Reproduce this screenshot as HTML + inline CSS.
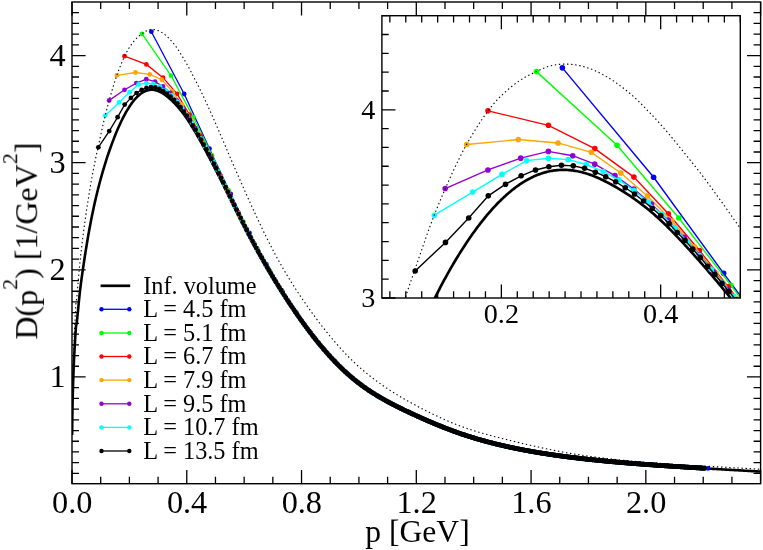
<!DOCTYPE html>
<html><head><meta charset="utf-8"><title>D(p^2) finite volume</title>
<style>html,body{margin:0;padding:0;background:#fff}svg{display:block}</style></head>
<body>
<svg width="763" height="550" viewBox="0 0 763 550" style="display:block">
<rect width="763" height="550" fill="#fff"/>
<defs><clipPath id="cm"><rect x="72.00" y="2.00" width="688.60" height="481.70"/></clipPath>
<clipPath id="ci"><rect x="381.90" y="15.70" width="358.40" height="282.30"/></clipPath></defs>
<g clip-path="url(#cm)">
<path d="M72.14,434.89 L72.17,431.82 L72.20,428.83 L72.23,425.90 L72.27,423.04 L72.30,420.23 L72.34,417.48 L72.38,414.77 L72.43,412.11 L72.47,409.49 L72.52,406.91 L72.57,404.36 L72.62,401.85 L72.68,399.37 L72.73,396.92 L72.79,394.50 L72.86,392.11 L72.92,389.75 L72.99,387.41 L73.06,385.09 L73.13,382.80 L73.20,380.53 L73.28,378.28 L73.36,376.05 L73.44,373.84 L73.52,371.65 L73.61,369.48 L73.69,367.32 L73.78,365.18 L73.88,363.06 L73.97,360.96 L74.07,358.86 L74.17,356.79 L74.27,354.73 L74.37,352.68 L74.48,350.65 L74.59,348.63 L74.70,346.62 L74.81,344.62 L74.93,342.64 L75.05,340.67 L75.17,338.71 L75.29,336.76 L75.42,334.82 L75.54,332.89 L75.67,330.98 L75.81,329.07 L75.94,327.18 L76.08,325.96 L76.22,325.47 L76.36,324.81 L76.50,324.00 L76.65,323.05 L76.80,321.97 L76.95,320.76 L77.10,319.45 L77.26,318.04 L77.42,316.54 L77.58,314.96 L77.74,313.31 L78.88,301.40 L80.02,290.72 L81.16,281.63 L82.30,273.42 L83.44,265.59 L84.58,258.04 L85.72,250.76 L86.86,243.76 L88.00,237.03 L89.14,230.59 L90.28,224.42 L91.42,218.53 L92.56,212.91 L93.70,207.54 L94.84,202.40 L95.98,197.46 L97.12,192.71 L98.26,188.14 L99.40,183.73 L100.54,179.47 L101.68,175.36 L102.82,171.38 L103.96,167.53 L105.10,163.80 L106.24,160.18 L107.38,156.67 L108.52,153.27 L109.66,149.96 L110.80,146.75 L111.94,143.64 L113.08,140.61 L114.22,137.67 L115.36,134.81 L116.50,132.04 L117.64,129.35 L118.78,126.75 L119.92,124.24 L121.06,121.81 L122.20,119.46 L123.34,117.21 L124.48,115.04 L125.62,112.95 L126.76,110.96 L127.90,109.06 L129.04,107.24 L130.18,105.51 L131.32,103.87 L132.46,102.32 L133.60,100.86 L134.74,99.50 L135.88,98.22 L137.02,97.03 L138.16,95.93 L139.30,94.92 L140.44,94.00 L141.58,93.18 L142.72,92.44 L143.86,91.79 L145.00,91.24 L146.14,90.77 L147.28,90.40 L148.42,90.11 L149.56,89.91 L150.70,89.79 L151.84,89.76 L152.98,89.81 L154.12,89.94 L155.26,90.15 L156.40,90.44 L157.54,90.80 L158.68,91.24 L159.82,91.75 L160.96,92.33 L162.10,92.97 L163.24,93.69 L164.38,94.47 L165.52,95.31 L166.66,96.19 L167.80,97.11 L168.94,98.07 L170.08,99.07 L171.22,100.10 L172.36,101.18 L173.50,102.29 L174.64,103.45 L175.78,104.64 L176.92,105.88 L178.06,107.16 L179.20,108.49 L180.34,109.86 L181.48,111.27 L182.62,112.73 L183.76,114.24 L184.90,115.80 L186.04,117.41 L187.18,119.07 L188.32,120.78 L189.46,122.55 L190.60,124.37 L191.74,126.21 L192.88,128.09 L194.02,129.99 L195.16,131.92 L196.30,133.87 L197.44,135.84 L198.58,137.84 L199.72,139.86 L200.86,141.90 L202.00,143.96 L203.14,146.04 L204.28,148.14 L205.42,150.25 L206.56,152.38 L207.70,154.52 L208.84,156.67 L209.98,158.84 L211.12,161.02 L212.26,163.21 L213.40,165.41 L214.54,167.62 L215.68,169.83 L216.82,172.06 L217.96,174.31 L219.10,176.57 L220.24,178.85 L221.38,181.13 L222.52,183.43 L223.66,185.73 L224.80,188.05 L225.94,190.37 L227.08,192.69 L228.22,195.02 L229.36,197.35 L230.50,199.68 L231.64,202.01 L232.78,204.33 L233.92,206.66 L235.06,208.97 L236.20,211.29 L237.34,213.59 L238.48,215.89 L239.62,218.18 L240.76,220.46 L241.90,222.72 L243.04,224.98 L244.18,227.22 L245.32,229.44 L246.46,231.65 L247.60,233.85 L248.74,236.02 L249.88,238.18 L251.02,240.31 L252.16,242.43 L253.30,244.52 L254.44,246.61 L255.58,248.68 L256.72,250.74 L257.86,252.79 L259.00,254.82 L260.14,256.85 L261.28,258.86 L262.42,260.87 L263.56,262.86 L264.70,264.83 L265.84,266.80 L266.98,268.75 L268.12,270.69 L269.26,272.62 L270.40,274.54 L271.54,276.44 L272.68,278.34 L273.82,280.21 L274.96,282.08 L276.10,283.94 L277.24,285.78 L278.38,287.61 L279.52,289.42 L280.66,291.23 L281.80,293.02 L282.94,294.80 L284.08,296.57 L285.22,298.33 L286.36,300.07 L287.50,301.80 L288.64,303.52 L289.78,305.23 L290.92,306.93 L292.06,308.62 L293.20,310.29 L294.34,311.95 L295.48,313.60 L296.62,315.24 L297.76,316.87 L298.90,318.49 L300.04,320.09 L301.18,321.68 L302.32,323.26 L303.46,324.83 L304.60,326.38 L305.74,327.92 L306.88,329.45 L308.02,330.97 L309.16,332.47 L310.30,333.96 L311.44,335.43 L312.58,336.90 L313.72,338.34 L314.86,339.78 L316.00,341.20 L317.14,342.61 L318.28,344.00 L319.42,345.38 L320.56,346.74 L321.70,348.10 L322.84,349.43 L323.98,350.76 L325.12,352.06 L326.26,353.36 L327.40,354.64 L328.54,355.90 L329.68,357.15 L330.82,358.39 L331.96,359.61 L333.10,360.82 L334.24,362.01 L335.38,363.19 L336.52,364.35 L337.66,365.50 L338.80,366.63 L339.94,367.75 L341.08,368.86 L342.22,369.95 L343.36,371.02 L344.50,372.08 L345.64,373.12 L346.78,374.15 L347.92,375.17 L349.06,376.17 L350.20,377.15 L351.34,378.12 L352.48,379.07 L353.62,380.01 L354.76,380.93 L355.90,381.84 L357.04,382.74 L358.18,383.62 L359.32,384.48 L360.46,385.34 L361.60,386.17 L362.74,387.00 L363.88,387.81 L365.02,388.61 L366.16,389.40 L367.30,390.18 L368.44,390.94 L369.58,391.70 L370.72,392.44 L371.86,393.17 L373.00,393.89 L374.14,394.61 L375.28,395.31 L376.42,396.00 L377.56,396.69 L378.70,397.36 L379.84,398.03 L380.98,398.69 L382.12,399.34 L383.26,399.98 L384.40,400.62 L385.54,401.24 L386.68,401.86 L387.82,402.48 L388.96,403.09 L390.10,403.69 L391.24,404.28 L392.38,404.87 L393.52,405.46 L394.66,406.04 L395.80,406.61 L396.94,407.18 L398.08,407.75 L399.22,408.31 L400.36,408.86 L401.50,409.42 L402.64,409.97 L403.78,410.51 L404.92,411.05 L406.06,411.59 L407.20,412.13 L408.34,412.66 L409.48,413.20 L410.62,413.73 L411.76,414.25 L412.90,414.78 L414.04,415.30 L415.18,415.82 L416.32,416.34 L417.46,416.85 L418.60,417.37 L419.74,417.88 L420.88,418.38 L422.02,418.89 L423.16,419.39 L424.30,419.89 L425.44,420.39 L426.58,420.88 L427.72,421.37 L428.86,421.86 L430.00,422.35 L431.14,422.83 L432.28,423.31 L433.42,423.78 L434.56,424.26 L435.70,424.73 L436.84,425.19 L437.98,425.65 L439.12,426.11 L440.26,426.57 L441.40,427.02 L442.54,427.47 L443.68,427.92 L444.82,428.36 L445.96,428.80 L447.10,429.24 L448.24,429.67 L449.38,430.10 L450.52,430.52 L451.66,430.94 L452.80,431.36 L453.94,431.78 L455.08,432.19 L456.22,432.59 L457.36,432.99 L458.50,433.39 L459.64,433.79 L460.78,434.18 L461.92,434.56 L463.06,434.94 L464.20,435.32 L465.34,435.69 L466.48,436.06 L467.62,436.43 L468.76,436.79 L469.90,437.15 L471.04,437.50 L472.18,437.85 L473.32,438.20 L474.46,438.54 L475.60,438.88 L476.74,439.22 L477.88,439.55 L479.02,439.87 L480.16,440.20 L481.30,440.52 L482.44,440.84 L483.58,441.15 L484.72,441.46 L485.86,441.77 L487.00,442.07 L488.14,442.37 L489.28,442.67 L490.42,442.96 L491.56,443.26 L492.70,443.54 L493.84,443.83 L494.98,444.11 L496.12,444.39 L497.26,444.67 L498.40,444.94 L499.54,445.21 L500.68,445.48 L501.82,445.74 L502.96,446.00 L504.10,446.26 L505.24,446.52 L506.38,446.77 L507.52,447.02 L508.66,447.27 L509.80,447.51 L510.94,447.76 L512.08,448.00 L513.22,448.23 L514.36,448.47 L515.50,448.70 L516.64,448.93 L517.78,449.16 L518.92,449.39 L520.06,449.61 L521.20,449.83 L522.34,450.05 L523.48,450.26 L524.62,450.48 L525.76,450.69 L526.90,450.90 L528.04,451.11 L529.18,451.31 L530.32,451.51 L531.46,451.72 L532.60,451.91 L533.74,452.11 L534.88,452.31 L536.02,452.50 L537.16,452.69 L538.30,452.88 L539.44,453.07 L540.58,453.25 L541.72,453.43 L542.86,453.62 L544.00,453.80 L545.14,453.97 L546.28,454.15 L547.42,454.32 L548.56,454.50 L549.70,454.67 L550.84,454.84 L551.98,455.00 L553.12,455.17 L554.26,455.33 L555.40,455.49 L556.54,455.66 L557.68,455.81 L558.82,455.97 L559.96,456.13 L561.10,456.28 L562.24,456.44 L563.38,456.59 L564.52,456.74 L565.66,456.89 L566.80,457.03 L567.94,457.18 L569.08,457.32 L570.22,457.47 L571.36,457.61 L572.50,457.75 L573.64,457.89 L574.78,458.02 L575.92,458.16 L577.06,458.30 L578.20,458.43 L579.34,458.56 L580.48,458.69 L581.62,458.82 L582.76,458.95 L583.90,459.08 L585.04,459.21 L586.18,459.33 L587.32,459.46 L588.46,459.58 L589.60,459.70 L590.74,459.82 L591.88,459.94 L593.02,460.06 L594.16,460.18 L595.30,460.29 L596.44,460.41 L597.58,460.52 L598.72,460.64 L599.86,460.75 L601.00,460.86 L602.14,460.97 L603.28,461.08 L604.42,461.19 L605.56,461.30 L606.70,461.41 L607.84,461.51 L608.98,461.62 L610.12,461.72 L611.26,461.83 L612.40,461.93 L613.54,462.03 L614.68,462.13 L615.82,462.23 L616.96,462.33 L618.10,462.43 L619.24,462.53 L620.38,462.62 L621.52,462.72 L622.66,462.82 L623.80,462.91 L624.94,463.01 L626.08,463.10 L627.22,463.19 L628.36,463.28 L629.50,463.37 L630.64,463.47 L631.78,463.56 L632.92,463.65 L634.06,463.73 L635.20,463.82 L636.34,463.91 L637.48,464.00 L638.62,464.08 L639.76,464.17 L640.90,464.25 L642.04,464.34 L643.18,464.42 L644.32,464.51 L645.46,464.59 L646.60,464.67 L647.74,464.75 L648.88,464.84 L650.02,464.92 L651.16,465.00 L652.30,465.08 L653.44,465.16 L654.58,465.24 L655.72,465.32 L656.86,465.39 L658.00,465.47 L659.14,465.55 L660.28,465.63 L661.42,465.70 L662.56,465.78 L663.70,465.85 L664.84,465.93 L665.98,466.01 L667.12,466.08 L668.26,466.15 L669.40,466.23 L670.54,466.30 L671.68,466.38 L672.82,466.45 L673.96,466.52 L675.10,466.59 L676.24,466.67 L677.38,466.74 L678.52,466.81 L679.66,466.88 L680.80,466.95 L681.94,467.02 L683.08,467.09 L684.22,467.16 L685.36,467.23 L686.50,467.30 L687.64,467.37 L688.78,467.44 L689.92,467.51 L691.06,467.58 L692.20,467.65 L693.34,467.72 L694.48,467.78 L695.62,467.85 L696.76,467.92 L697.90,467.99 L699.04,468.05 L700.18,468.12 L701.32,468.19 L702.46,468.26 L703.60,468.32 L704.74,468.39 L705.88,468.46 L707.02,468.52 L708.16,468.59 L709.30,468.66 L710.44,468.72 L711.58,468.79 L712.72,468.85 L713.86,468.92 L715.00,468.99 L716.14,469.05 L717.28,469.12 L718.42,469.18 L719.56,469.25 L720.70,469.31 L721.84,469.38 L722.98,469.44 L724.12,469.51 L725.26,469.58 L726.40,469.64 L727.54,469.71 L728.68,469.77 L729.82,469.84 L730.96,469.90 L732.10,469.97 L733.24,470.03 L734.38,470.10 L735.52,470.16 L736.66,470.23 L737.80,470.29 L738.94,470.36 L740.08,470.42 L741.22,470.49 L742.36,470.56 L743.50,470.62 L744.64,470.69 L745.78,470.75 L746.92,470.82 L748.06,470.88 L749.20,470.95 L750.34,471.02 L751.48,471.08 L752.62,471.15 L753.76,471.21 L754.90,471.28 L756.04,471.35 L757.18,471.41 L758.32,471.48 L759.46,471.55 L760.60,471.61" fill="none" stroke="#000" stroke-width="2.6" stroke-linejoin="round"/>
<path d="M151.36,31.70 L184.23,93.98 L209.46,148.68 L230.72,193.96 L249.46,232.92 L266.39,264.36 L281.97,290.61 L296.47,312.84 L310.08,331.86 L322.96,348.04 L335.21,361.69 L346.92,373.12 L358.14,382.56 L368.94,390.35 L379.36,396.91 L389.44,402.57 L399.21,407.59 L408.70,412.17 L417.93,416.45 L426.91,420.45 L435.68,424.18 L444.24,427.63 L452.60,430.82 L460.79,433.73 L468.81,436.38 L476.66,438.79 L484.37,440.99 L491.94,442.99 L499.37,444.82 L506.68,446.51 L513.86,448.05 L520.93,449.48 L527.90,450.79 L534.75,452.00 L541.51,453.13 L548.17,454.18 L554.74,455.15 L561.21,456.05 L567.61,456.90 L573.92,457.69 L580.16,458.43 L586.32,459.13 L592.41,459.79 L598.42,460.40 L604.37,460.99 L610.25,461.54 L616.07,462.06 L621.83,462.56 L627.53,463.03 L633.17,463.49 L638.75,463.92 L644.28,464.33 L649.76,464.73 L655.18,465.11 L660.56,465.48 L665.88,465.84 L671.16,466.19 L676.40,466.52 L681.58,466.85 L686.73,467.17 L691.83,467.48 L696.89,467.79 L701.91,468.08 L707.98,468.44" fill="none" stroke="#0000ff" stroke-width="1.3"/>
<g fill="#0000ff"><circle cx="151.36" cy="31.70" r="2.4"/><circle cx="184.23" cy="93.98" r="2.4"/><circle cx="209.46" cy="148.68" r="2.4"/><circle cx="230.72" cy="193.96" r="2.4"/><circle cx="249.46" cy="232.92" r="2.4"/><circle cx="266.39" cy="264.36" r="2.4"/><circle cx="281.97" cy="290.61" r="2.4"/><circle cx="296.47" cy="312.84" r="2.4"/><circle cx="310.08" cy="331.86" r="2.4"/><circle cx="322.96" cy="348.04" r="2.4"/><circle cx="335.21" cy="361.69" r="2.4"/><circle cx="346.92" cy="373.12" r="2.4"/><circle cx="358.14" cy="382.56" r="2.4"/><circle cx="368.94" cy="390.35" r="2.4"/><circle cx="379.36" cy="396.91" r="2.4"/><circle cx="389.44" cy="402.57" r="2.4"/><circle cx="399.21" cy="407.59" r="2.4"/><circle cx="408.70" cy="412.17" r="2.4"/><circle cx="417.93" cy="416.45" r="2.4"/><circle cx="426.91" cy="420.45" r="2.4"/><circle cx="435.68" cy="424.18" r="2.4"/><circle cx="444.24" cy="427.63" r="2.4"/><circle cx="452.60" cy="430.82" r="2.4"/><circle cx="460.79" cy="433.73" r="2.4"/><circle cx="468.81" cy="436.38" r="2.4"/><circle cx="476.66" cy="438.79" r="2.4"/><circle cx="484.37" cy="440.99" r="2.4"/><circle cx="491.94" cy="442.99" r="2.4"/><circle cx="499.37" cy="444.82" r="2.4"/><circle cx="506.68" cy="446.51" r="2.4"/><circle cx="513.86" cy="448.05" r="2.4"/><circle cx="520.93" cy="449.48" r="2.4"/><circle cx="527.90" cy="450.79" r="2.4"/><circle cx="534.75" cy="452.00" r="2.4"/><circle cx="541.51" cy="453.13" r="2.4"/><circle cx="548.17" cy="454.18" r="2.4"/><circle cx="554.74" cy="455.15" r="2.4"/><circle cx="561.21" cy="456.05" r="2.4"/><circle cx="567.61" cy="456.90" r="2.4"/><circle cx="573.92" cy="457.69" r="2.4"/><circle cx="580.16" cy="458.43" r="2.4"/><circle cx="586.32" cy="459.13" r="2.4"/><circle cx="592.41" cy="459.79" r="2.4"/><circle cx="598.42" cy="460.40" r="2.4"/><circle cx="604.37" cy="460.99" r="2.4"/><circle cx="610.25" cy="461.54" r="2.4"/><circle cx="616.07" cy="462.06" r="2.4"/><circle cx="621.83" cy="462.56" r="2.4"/><circle cx="627.53" cy="463.03" r="2.4"/><circle cx="633.17" cy="463.49" r="2.4"/><circle cx="638.75" cy="463.92" r="2.4"/><circle cx="644.28" cy="464.33" r="2.4"/><circle cx="649.76" cy="464.73" r="2.4"/><circle cx="655.18" cy="465.11" r="2.4"/><circle cx="660.56" cy="465.48" r="2.4"/><circle cx="665.88" cy="465.84" r="2.4"/><circle cx="671.16" cy="466.19" r="2.4"/><circle cx="676.40" cy="466.52" r="2.4"/><circle cx="681.58" cy="466.85" r="2.4"/><circle cx="686.73" cy="467.17" r="2.4"/><circle cx="691.83" cy="467.48" r="2.4"/><circle cx="696.89" cy="467.79" r="2.4"/><circle cx="701.91" cy="468.08" r="2.4"/><circle cx="707.98" cy="468.44" r="2.4"/></g>
<path d="M142.04,33.83 L171.05,75.71 L193.31,117.16 L212.07,155.41 L228.61,190.40 L243.55,221.85 L257.30,248.48 L270.09,271.31 L282.11,291.22 L293.47,308.72 L304.28,324.24 L314.61,337.96 L324.52,350.03 L334.05,360.61 L343.25,369.82 L352.15,377.79 L360.77,384.64 L369.14,390.54 L377.28,395.71 L385.21,400.31 L392.95,404.45 L400.50,408.25 L407.88,411.81 L415.11,415.18 L422.18,418.38 L429.12,421.42 L435.92,424.29 L442.60,427.00 L449.16,429.54 L455.60,431.92 L461.95,434.13 L468.19,436.19 L474.33,438.10 L480.38,439.88 L486.34,441.53 L492.22,443.07 L498.01,444.50 L503.73,445.84 L509.38,447.10 L514.95,448.28 L520.45,449.38 L525.89,450.42 L531.26,451.40 L536.57,452.32 L541.82,453.18 L547.01,454.00 L552.15,454.77 L557.23,455.50 L562.25,456.20 L567.23,456.85 L572.16,457.48 L577.04,458.07 L581.87,458.63 L586.66,459.17 L591.40,459.68 L596.10,460.17 L600.76,460.64 L605.38,461.08 L609.96,461.51 L614.50,461.92 L619.00,462.32 L623.47,462.70 L627.90,463.06 L632.29,463.42 L636.65,463.76 L640.98,464.09 L645.27,464.41 L649.53,464.72 L653.77,465.02 L657.97,465.31 L662.14,465.59 L666.28,465.87 L670.39,466.14 L674.48,466.40 L678.53,466.66 L682.56,466.91 L686.57,467.16 L690.54,467.40 L694.50,467.64 L698.42,467.88 L702.33,468.11" fill="none" stroke="#00ff00" stroke-width="1.3"/>
<g fill="#00ff00"><circle cx="142.04" cy="33.83" r="2.4"/><circle cx="171.05" cy="75.71" r="2.4"/><circle cx="193.31" cy="117.16" r="2.4"/><circle cx="212.07" cy="155.41" r="2.4"/><circle cx="228.61" cy="190.40" r="2.4"/><circle cx="243.55" cy="221.85" r="2.4"/><circle cx="257.30" cy="248.48" r="2.4"/><circle cx="270.09" cy="271.31" r="2.4"/><circle cx="282.11" cy="291.22" r="2.4"/><circle cx="293.47" cy="308.72" r="2.4"/><circle cx="304.28" cy="324.24" r="2.4"/><circle cx="314.61" cy="337.96" r="2.4"/><circle cx="324.52" cy="350.03" r="2.4"/><circle cx="334.05" cy="360.61" r="2.4"/><circle cx="343.25" cy="369.82" r="2.4"/><circle cx="352.15" cy="377.79" r="2.4"/><circle cx="360.77" cy="384.64" r="2.4"/><circle cx="369.14" cy="390.54" r="2.4"/><circle cx="377.28" cy="395.71" r="2.4"/><circle cx="385.21" cy="400.31" r="2.4"/><circle cx="392.95" cy="404.45" r="2.4"/><circle cx="400.50" cy="408.25" r="2.4"/><circle cx="407.88" cy="411.81" r="2.4"/><circle cx="415.11" cy="415.18" r="2.4"/><circle cx="422.18" cy="418.38" r="2.4"/><circle cx="429.12" cy="421.42" r="2.4"/><circle cx="435.92" cy="424.29" r="2.4"/><circle cx="442.60" cy="427.00" r="2.4"/><circle cx="449.16" cy="429.54" r="2.4"/><circle cx="455.60" cy="431.92" r="2.4"/><circle cx="461.95" cy="434.13" r="2.4"/><circle cx="468.19" cy="436.19" r="2.4"/><circle cx="474.33" cy="438.10" r="2.4"/><circle cx="480.38" cy="439.88" r="2.4"/><circle cx="486.34" cy="441.53" r="2.4"/><circle cx="492.22" cy="443.07" r="2.4"/><circle cx="498.01" cy="444.50" r="2.4"/><circle cx="503.73" cy="445.84" r="2.4"/><circle cx="509.38" cy="447.10" r="2.4"/><circle cx="514.95" cy="448.28" r="2.4"/><circle cx="520.45" cy="449.38" r="2.4"/><circle cx="525.89" cy="450.42" r="2.4"/><circle cx="531.26" cy="451.40" r="2.4"/><circle cx="536.57" cy="452.32" r="2.4"/><circle cx="541.82" cy="453.18" r="2.4"/><circle cx="547.01" cy="454.00" r="2.4"/><circle cx="552.15" cy="454.77" r="2.4"/><circle cx="557.23" cy="455.50" r="2.4"/><circle cx="562.25" cy="456.20" r="2.4"/><circle cx="567.23" cy="456.85" r="2.4"/><circle cx="572.16" cy="457.48" r="2.4"/><circle cx="577.04" cy="458.07" r="2.4"/><circle cx="581.87" cy="458.63" r="2.4"/><circle cx="586.66" cy="459.17" r="2.4"/><circle cx="591.40" cy="459.68" r="2.4"/><circle cx="596.10" cy="460.17" r="2.4"/><circle cx="600.76" cy="460.64" r="2.4"/><circle cx="605.38" cy="461.08" r="2.4"/><circle cx="609.96" cy="461.51" r="2.4"/><circle cx="614.50" cy="461.92" r="2.4"/><circle cx="619.00" cy="462.32" r="2.4"/><circle cx="623.47" cy="462.70" r="2.4"/><circle cx="627.90" cy="463.06" r="2.4"/><circle cx="632.29" cy="463.42" r="2.4"/><circle cx="636.65" cy="463.76" r="2.4"/><circle cx="640.98" cy="464.09" r="2.4"/><circle cx="645.27" cy="464.41" r="2.4"/><circle cx="649.53" cy="464.72" r="2.4"/><circle cx="653.77" cy="465.02" r="2.4"/><circle cx="657.97" cy="465.31" r="2.4"/><circle cx="662.14" cy="465.59" r="2.4"/><circle cx="666.28" cy="465.87" r="2.4"/><circle cx="670.39" cy="466.14" r="2.4"/><circle cx="674.48" cy="466.40" r="2.4"/><circle cx="678.53" cy="466.66" r="2.4"/><circle cx="682.56" cy="466.91" r="2.4"/><circle cx="686.57" cy="467.16" r="2.4"/><circle cx="690.54" cy="467.40" r="2.4"/><circle cx="694.50" cy="467.64" r="2.4"/><circle cx="698.42" cy="467.88" r="2.4"/><circle cx="702.33" cy="468.11" r="2.4"/></g>
<path d="M124.56,56.16 L146.34,64.39 L163.04,77.63 L177.13,93.87 L189.53,114.70 L200.75,135.64 L211.07,156.26 L220.67,175.78 L229.69,194.62 L238.22,212.37 L246.33,228.72 L254.08,243.52 L261.52,257.05 L268.67,269.57 L275.58,281.17 L282.25,291.95 L288.72,301.98 L295.01,311.35 L301.12,320.12 L307.07,328.31 L312.87,335.95 L318.54,343.07 L324.08,349.69 L329.51,355.83 L334.82,361.53 L340.02,366.80 L345.13,371.67 L350.14,376.15 L355.06,380.27 L359.90,384.05 L364.66,387.52 L369.34,390.73 L373.95,393.70 L378.49,396.48 L382.97,399.08 L387.38,401.52 L391.73,403.84 L396.02,406.05 L400.26,408.15 L404.44,410.18 L408.57,412.15 L412.65,414.06 L416.68,415.91 L420.66,417.71 L424.60,419.46 L428.50,421.16 L432.35,422.81 L436.17,424.40 L439.94,425.94 L443.68,427.43 L447.38,428.87 L451.04,430.25 L454.67,431.58 L458.26,432.86 L461.82,434.09 L465.35,435.27 L468.84,436.40 L472.31,437.49 L475.75,438.53 L479.15,439.53 L482.53,440.48 L485.88,441.40 L489.21,442.29 L492.51,443.14 L495.78,443.96 L499.02,444.75 L502.25,445.50 L505.45,446.23 L508.62,446.94 L511.77,447.62 L514.90,448.27 L518.01,448.90 L521.10,449.51 L524.17,450.10 L527.21,450.67 L530.23,451.21 L533.24,451.75 L536.23,452.26 L539.19,452.75 L542.14,453.23 L545.07,453.70 L547.98,454.15 L550.87,454.58 L553.75,455.01 L556.61,455.42 L559.45,455.81 L562.28,456.20 L565.09,456.57 L567.88,456.94 L570.66,457.29 L573.42,457.63 L576.17,457.96 L578.90,458.29 L581.62,458.60 L584.32,458.91 L587.01,459.21 L589.69,459.50 L592.35,459.78 L595.00,460.06 L597.63,460.32 L600.25,460.59 L602.86,460.84 L605.46,461.09 L608.04,461.33 L610.61,461.57 L613.17,461.80 L615.72,462.03 L618.25,462.25 L620.78,462.47 L623.29,462.68 L625.79,462.89 L628.28,463.09 L630.75,463.29 L633.22,463.49 L635.68,463.68 L638.12,463.87 L640.56,464.06 L642.98,464.24 L645.40,464.41 L647.80,464.59 L650.19,464.76 L652.58,464.93 L654.95,465.10 L657.32,465.26 L659.67,465.42 L662.02,465.58 L664.36,465.74 L666.68,465.89 L669.00,466.05 L671.31,466.20 L673.61,466.35 L675.90,466.49 L678.19,466.64 L680.46,466.78 L682.73,466.92 L684.99,467.06 L687.24,467.20 L689.48,467.34 L691.71,467.47 L693.94,467.61 L696.15,467.74 L698.36,467.87 L700.56,468.01 L702.76,468.14" fill="none" stroke="#ff0000" stroke-width="1.3"/>
<g fill="#ff0000"><circle cx="124.56" cy="56.16" r="2.4"/><circle cx="146.34" cy="64.39" r="2.4"/><circle cx="163.04" cy="77.63" r="2.4"/><circle cx="177.13" cy="93.87" r="2.4"/><circle cx="189.53" cy="114.70" r="2.4"/><circle cx="200.75" cy="135.64" r="2.4"/><circle cx="211.07" cy="156.26" r="2.4"/><circle cx="220.67" cy="175.78" r="2.4"/><circle cx="229.69" cy="194.62" r="2.4"/><circle cx="238.22" cy="212.37" r="2.4"/><circle cx="246.33" cy="228.72" r="2.4"/><circle cx="254.08" cy="243.52" r="2.4"/><circle cx="261.52" cy="257.05" r="2.4"/><circle cx="268.67" cy="269.57" r="2.4"/><circle cx="275.58" cy="281.17" r="2.4"/><circle cx="282.25" cy="291.95" r="2.4"/><circle cx="288.72" cy="301.98" r="2.4"/><circle cx="295.01" cy="311.35" r="2.4"/><circle cx="301.12" cy="320.12" r="2.4"/><circle cx="307.07" cy="328.31" r="2.4"/><circle cx="312.87" cy="335.95" r="2.4"/><circle cx="318.54" cy="343.07" r="2.4"/><circle cx="324.08" cy="349.69" r="2.4"/><circle cx="329.51" cy="355.83" r="2.4"/><circle cx="334.82" cy="361.53" r="2.4"/><circle cx="340.02" cy="366.80" r="2.4"/><circle cx="345.13" cy="371.67" r="2.4"/><circle cx="350.14" cy="376.15" r="2.4"/><circle cx="355.06" cy="380.27" r="2.4"/><circle cx="359.90" cy="384.05" r="2.4"/><circle cx="364.66" cy="387.52" r="2.4"/><circle cx="369.34" cy="390.73" r="2.4"/><circle cx="373.95" cy="393.70" r="2.4"/><circle cx="378.49" cy="396.48" r="2.4"/><circle cx="382.97" cy="399.08" r="2.4"/><circle cx="387.38" cy="401.52" r="2.4"/><circle cx="391.73" cy="403.84" r="2.4"/><circle cx="396.02" cy="406.05" r="2.4"/><circle cx="400.26" cy="408.15" r="2.4"/><circle cx="404.44" cy="410.18" r="2.4"/><circle cx="408.57" cy="412.15" r="2.4"/><circle cx="412.65" cy="414.06" r="2.4"/><circle cx="416.68" cy="415.91" r="2.4"/><circle cx="420.66" cy="417.71" r="2.4"/><circle cx="424.60" cy="419.46" r="2.4"/><circle cx="428.50" cy="421.16" r="2.4"/><circle cx="432.35" cy="422.81" r="2.4"/><circle cx="436.17" cy="424.40" r="2.4"/><circle cx="439.94" cy="425.94" r="2.4"/><circle cx="443.68" cy="427.43" r="2.4"/><circle cx="447.38" cy="428.87" r="2.4"/><circle cx="451.04" cy="430.25" r="2.4"/><circle cx="454.67" cy="431.58" r="2.4"/><circle cx="458.26" cy="432.86" r="2.4"/><circle cx="461.82" cy="434.09" r="2.4"/><circle cx="465.35" cy="435.27" r="2.4"/><circle cx="468.84" cy="436.40" r="2.4"/><circle cx="472.31" cy="437.49" r="2.4"/><circle cx="475.75" cy="438.53" r="2.4"/><circle cx="479.15" cy="439.53" r="2.4"/><circle cx="482.53" cy="440.48" r="2.4"/><circle cx="485.88" cy="441.40" r="2.4"/><circle cx="489.21" cy="442.29" r="2.4"/><circle cx="492.51" cy="443.14" r="2.4"/><circle cx="495.78" cy="443.96" r="2.4"/><circle cx="499.02" cy="444.75" r="2.4"/><circle cx="502.25" cy="445.50" r="2.4"/><circle cx="505.45" cy="446.23" r="2.4"/><circle cx="508.62" cy="446.94" r="2.4"/><circle cx="511.77" cy="447.62" r="2.4"/><circle cx="514.90" cy="448.27" r="2.4"/><circle cx="518.01" cy="448.90" r="2.4"/><circle cx="521.10" cy="449.51" r="2.4"/><circle cx="524.17" cy="450.10" r="2.4"/><circle cx="527.21" cy="450.67" r="2.4"/><circle cx="530.23" cy="451.21" r="2.4"/><circle cx="533.24" cy="451.75" r="2.4"/><circle cx="536.23" cy="452.26" r="2.4"/><circle cx="539.19" cy="452.75" r="2.4"/><circle cx="542.14" cy="453.23" r="2.4"/><circle cx="545.07" cy="453.70" r="2.4"/><circle cx="547.98" cy="454.15" r="2.4"/><circle cx="550.87" cy="454.58" r="2.4"/><circle cx="553.75" cy="455.01" r="2.4"/><circle cx="556.61" cy="455.42" r="2.4"/><circle cx="559.45" cy="455.81" r="2.4"/><circle cx="562.28" cy="456.20" r="2.4"/><circle cx="565.09" cy="456.57" r="2.4"/><circle cx="567.88" cy="456.94" r="2.4"/><circle cx="570.66" cy="457.29" r="2.4"/><circle cx="573.42" cy="457.63" r="2.4"/><circle cx="576.17" cy="457.96" r="2.4"/><circle cx="578.90" cy="458.29" r="2.4"/><circle cx="581.62" cy="458.60" r="2.4"/><circle cx="584.32" cy="458.91" r="2.4"/><circle cx="587.01" cy="459.21" r="2.4"/><circle cx="589.69" cy="459.50" r="2.4"/><circle cx="592.35" cy="459.78" r="2.4"/><circle cx="595.00" cy="460.06" r="2.4"/><circle cx="597.63" cy="460.32" r="2.4"/><circle cx="600.25" cy="460.59" r="2.4"/><circle cx="602.86" cy="460.84" r="2.4"/><circle cx="605.46" cy="461.09" r="2.4"/><circle cx="608.04" cy="461.33" r="2.4"/><circle cx="610.61" cy="461.57" r="2.4"/><circle cx="613.17" cy="461.80" r="2.4"/><circle cx="615.72" cy="462.03" r="2.4"/><circle cx="618.25" cy="462.25" r="2.4"/><circle cx="620.78" cy="462.47" r="2.4"/><circle cx="623.29" cy="462.68" r="2.4"/><circle cx="625.79" cy="462.89" r="2.4"/><circle cx="628.28" cy="463.09" r="2.4"/><circle cx="630.75" cy="463.29" r="2.4"/><circle cx="633.22" cy="463.49" r="2.4"/><circle cx="635.68" cy="463.68" r="2.4"/><circle cx="638.12" cy="463.87" r="2.4"/><circle cx="640.56" cy="464.06" r="2.4"/><circle cx="642.98" cy="464.24" r="2.4"/><circle cx="645.40" cy="464.41" r="2.4"/><circle cx="647.80" cy="464.59" r="2.4"/><circle cx="650.19" cy="464.76" r="2.4"/><circle cx="652.58" cy="464.93" r="2.4"/><circle cx="654.95" cy="465.10" r="2.4"/><circle cx="657.32" cy="465.26" r="2.4"/><circle cx="659.67" cy="465.42" r="2.4"/><circle cx="662.02" cy="465.58" r="2.4"/><circle cx="664.36" cy="465.74" r="2.4"/><circle cx="666.68" cy="465.89" r="2.4"/><circle cx="669.00" cy="466.05" r="2.4"/><circle cx="671.31" cy="466.20" r="2.4"/><circle cx="673.61" cy="466.35" r="2.4"/><circle cx="675.90" cy="466.49" r="2.4"/><circle cx="678.19" cy="466.64" r="2.4"/><circle cx="680.46" cy="466.78" r="2.4"/><circle cx="682.73" cy="466.92" r="2.4"/><circle cx="684.99" cy="467.06" r="2.4"/><circle cx="687.24" cy="467.20" r="2.4"/><circle cx="689.48" cy="467.34" r="2.4"/><circle cx="691.71" cy="467.47" r="2.4"/><circle cx="693.94" cy="467.61" r="2.4"/><circle cx="696.15" cy="467.74" r="2.4"/><circle cx="698.36" cy="467.87" r="2.4"/><circle cx="700.56" cy="468.01" r="2.4"/><circle cx="702.76" cy="468.14" r="2.4"/></g>
<path d="M116.90,75.28 L135.50,72.51 L149.77,74.43 L161.80,79.77 L172.40,91.52 L181.99,104.66 L190.80,118.85 L199.00,133.70 L206.71,148.43 L213.99,162.82 L220.92,176.86 L227.55,190.58 L233.90,203.79 L240.01,216.34 L245.91,228.14 L251.61,239.11 L257.14,249.32 L262.50,258.96 L267.73,268.07 L272.81,276.69 L277.77,284.85 L282.61,292.59 L287.34,299.94 L291.98,306.93 L296.51,313.59 L300.96,319.94 L305.32,325.97 L309.60,331.72 L313.81,337.17 L317.94,342.35 L322.01,347.26 L326.01,351.92 L329.94,356.33 L333.82,360.50 L337.65,364.45 L341.41,368.17 L345.13,371.68 L348.80,374.99 L352.42,378.10 L355.99,381.02 L359.52,383.76 L363.00,386.34 L366.45,388.77 L369.85,391.07 L373.21,393.24 L376.54,395.31 L379.84,397.27 L383.09,399.15 L386.32,400.95 L389.51,402.67 L392.67,404.33 L395.80,405.93 L398.89,407.48 L401.96,408.99 L405.01,410.46 L408.02,411.89 L411.01,413.29 L413.97,414.67 L416.90,416.01 L419.81,417.33 L422.70,418.62 L425.56,419.89 L428.40,421.12 L431.22,422.33 L434.02,423.51 L436.79,424.66 L439.54,425.78 L442.28,426.87 L444.99,427.94 L447.68,428.98 L450.35,429.99 L453.01,430.98 L455.65,431.94 L458.27,432.87 L460.87,433.77 L463.45,434.65 L466.02,435.49 L468.57,436.32 L471.10,437.12 L473.62,437.89 L476.12,438.64 L478.61,439.37 L481.08,440.08 L483.54,440.76 L485.98,441.43 L488.41,442.08 L490.82,442.71 L493.22,443.32 L495.61,443.92 L497.98,444.50 L500.34,445.06 L502.69,445.61 L505.02,446.14 L507.35,446.66 L509.66,447.16 L511.95,447.65 L514.24,448.13 L516.51,448.60 L518.77,449.05 L521.02,449.50 L523.26,449.93 L525.49,450.35 L527.71,450.76 L529.92,451.16 L532.11,451.55 L534.30,451.93 L536.47,452.30 L538.64,452.66 L540.80,453.02 L542.94,453.36 L545.08,453.70 L547.20,454.03 L549.32,454.35 L551.43,454.67 L553.53,454.97 L555.61,455.28 L557.69,455.57 L559.77,455.86 L561.83,456.14 L563.88,456.41 L565.93,456.68 L567.96,456.95 L569.99,457.21 L572.01,457.46 L574.02,457.71 L576.03,457.95 L578.03,458.19 L580.01,458.42 L581.99,458.65 L583.97,458.87 L585.93,459.09 L587.89,459.30 L589.84,459.51 L591.78,459.72 L593.72,459.92 L595.65,460.12 L597.57,460.32 L599.48,460.51 L601.39,460.70 L603.29,460.88 L605.19,461.07 L607.07,461.24 L608.96,461.42 L610.83,461.59 L612.70,461.76 L614.56,461.93 L616.41,462.09 L618.26,462.25 L620.10,462.41 L621.94,462.57 L623.77,462.72 L625.59,462.88 L627.41,463.02 L629.22,463.17 L631.03,463.32 L632.83,463.46 L634.63,463.60 L636.42,463.74 L638.20,463.88 L639.98,464.01 L641.75,464.14 L643.51,464.28 L645.28,464.41 L647.03,464.53 L648.78,464.66 L650.53,464.79 L652.27,464.91 L654.00,465.03 L655.73,465.15 L657.46,465.27 L659.18,465.39 L660.89,465.51 L662.60,465.62 L664.30,465.74 L666.00,465.85 L667.70,465.96 L669.39,466.07 L671.07,466.18 L672.75,466.29 L674.43,466.40 L676.10,466.50 L677.77,466.61 L679.43,466.72 L681.09,466.82 L682.74,466.92 L684.39,467.02 L686.03,467.13 L687.67,467.23 L689.31,467.33 L690.94,467.43 L692.56,467.53 L694.19,467.62 L695.80,467.72 L697.42,467.82 L699.03,467.91 L700.63,468.01 L702.24,468.10" fill="none" stroke="#ffa500" stroke-width="1.3"/>
<g fill="#ffa500"><circle cx="116.90" cy="75.28" r="2.4"/><circle cx="135.50" cy="72.51" r="2.4"/><circle cx="149.77" cy="74.43" r="2.4"/><circle cx="161.80" cy="79.77" r="2.4"/><circle cx="172.40" cy="91.52" r="2.4"/><circle cx="181.99" cy="104.66" r="2.4"/><circle cx="190.80" cy="118.85" r="2.4"/><circle cx="199.00" cy="133.70" r="2.4"/><circle cx="206.71" cy="148.43" r="2.4"/><circle cx="213.99" cy="162.82" r="2.4"/><circle cx="220.92" cy="176.86" r="2.4"/><circle cx="227.55" cy="190.58" r="2.4"/><circle cx="233.90" cy="203.79" r="2.4"/><circle cx="240.01" cy="216.34" r="2.4"/><circle cx="245.91" cy="228.14" r="2.4"/><circle cx="251.61" cy="239.11" r="2.4"/><circle cx="257.14" cy="249.32" r="2.4"/><circle cx="262.50" cy="258.96" r="2.4"/><circle cx="267.73" cy="268.07" r="2.4"/><circle cx="272.81" cy="276.69" r="2.4"/><circle cx="277.77" cy="284.85" r="2.4"/><circle cx="282.61" cy="292.59" r="2.4"/><circle cx="287.34" cy="299.94" r="2.4"/><circle cx="291.98" cy="306.93" r="2.4"/><circle cx="296.51" cy="313.59" r="2.4"/><circle cx="300.96" cy="319.94" r="2.4"/><circle cx="305.32" cy="325.97" r="2.4"/><circle cx="309.60" cy="331.72" r="2.4"/><circle cx="313.81" cy="337.17" r="2.4"/><circle cx="317.94" cy="342.35" r="2.4"/><circle cx="322.01" cy="347.26" r="2.4"/><circle cx="326.01" cy="351.92" r="2.4"/><circle cx="329.94" cy="356.33" r="2.4"/><circle cx="333.82" cy="360.50" r="2.4"/><circle cx="337.65" cy="364.45" r="2.4"/><circle cx="341.41" cy="368.17" r="2.4"/><circle cx="345.13" cy="371.68" r="2.4"/><circle cx="348.80" cy="374.99" r="2.4"/><circle cx="352.42" cy="378.10" r="2.4"/><circle cx="355.99" cy="381.02" r="2.4"/><circle cx="359.52" cy="383.76" r="2.4"/><circle cx="363.00" cy="386.34" r="2.4"/><circle cx="366.45" cy="388.77" r="2.4"/><circle cx="369.85" cy="391.07" r="2.4"/><circle cx="373.21" cy="393.24" r="2.4"/><circle cx="376.54" cy="395.31" r="2.4"/><circle cx="379.84" cy="397.27" r="2.4"/><circle cx="383.09" cy="399.15" r="2.4"/><circle cx="386.32" cy="400.95" r="2.4"/><circle cx="389.51" cy="402.67" r="2.4"/><circle cx="392.67" cy="404.33" r="2.4"/><circle cx="395.80" cy="405.93" r="2.4"/><circle cx="398.89" cy="407.48" r="2.4"/><circle cx="401.96" cy="408.99" r="2.4"/><circle cx="405.01" cy="410.46" r="2.4"/><circle cx="408.02" cy="411.89" r="2.4"/><circle cx="411.01" cy="413.29" r="2.4"/><circle cx="413.97" cy="414.67" r="2.4"/><circle cx="416.90" cy="416.01" r="2.4"/><circle cx="419.81" cy="417.33" r="2.4"/><circle cx="422.70" cy="418.62" r="2.4"/><circle cx="425.56" cy="419.89" r="2.4"/><circle cx="428.40" cy="421.12" r="2.4"/><circle cx="431.22" cy="422.33" r="2.4"/><circle cx="434.02" cy="423.51" r="2.4"/><circle cx="436.79" cy="424.66" r="2.4"/><circle cx="439.54" cy="425.78" r="2.4"/><circle cx="442.28" cy="426.87" r="2.4"/><circle cx="444.99" cy="427.94" r="2.4"/><circle cx="447.68" cy="428.98" r="2.4"/><circle cx="450.35" cy="429.99" r="2.4"/><circle cx="453.01" cy="430.98" r="2.4"/><circle cx="455.65" cy="431.94" r="2.4"/><circle cx="458.27" cy="432.87" r="2.4"/><circle cx="460.87" cy="433.77" r="2.4"/><circle cx="463.45" cy="434.65" r="2.4"/><circle cx="466.02" cy="435.49" r="2.4"/><circle cx="468.57" cy="436.32" r="2.4"/><circle cx="471.10" cy="437.12" r="2.4"/><circle cx="473.62" cy="437.89" r="2.4"/><circle cx="476.12" cy="438.64" r="2.4"/><circle cx="478.61" cy="439.37" r="2.4"/><circle cx="481.08" cy="440.08" r="2.4"/><circle cx="483.54" cy="440.76" r="2.4"/><circle cx="485.98" cy="441.43" r="2.4"/><circle cx="488.41" cy="442.08" r="2.4"/><circle cx="490.82" cy="442.71" r="2.4"/><circle cx="493.22" cy="443.32" r="2.4"/><circle cx="495.61" cy="443.92" r="2.4"/><circle cx="497.98" cy="444.50" r="2.4"/><circle cx="500.34" cy="445.06" r="2.4"/><circle cx="502.69" cy="445.61" r="2.4"/><circle cx="505.02" cy="446.14" r="2.4"/><circle cx="507.35" cy="446.66" r="2.4"/><circle cx="509.66" cy="447.16" r="2.4"/><circle cx="511.95" cy="447.65" r="2.4"/><circle cx="514.24" cy="448.13" r="2.4"/><circle cx="516.51" cy="448.60" r="2.4"/><circle cx="518.77" cy="449.05" r="2.4"/><circle cx="521.02" cy="449.50" r="2.4"/><circle cx="523.26" cy="449.93" r="2.4"/><circle cx="525.49" cy="450.35" r="2.4"/><circle cx="527.71" cy="450.76" r="2.4"/><circle cx="529.92" cy="451.16" r="2.4"/><circle cx="532.11" cy="451.55" r="2.4"/><circle cx="534.30" cy="451.93" r="2.4"/><circle cx="536.47" cy="452.30" r="2.4"/><circle cx="538.64" cy="452.66" r="2.4"/><circle cx="540.80" cy="453.02" r="2.4"/><circle cx="542.94" cy="453.36" r="2.4"/><circle cx="545.08" cy="453.70" r="2.4"/><circle cx="547.20" cy="454.03" r="2.4"/><circle cx="549.32" cy="454.35" r="2.4"/><circle cx="551.43" cy="454.67" r="2.4"/><circle cx="553.53" cy="454.97" r="2.4"/><circle cx="555.61" cy="455.28" r="2.4"/><circle cx="557.69" cy="455.57" r="2.4"/><circle cx="559.77" cy="455.86" r="2.4"/><circle cx="561.83" cy="456.14" r="2.4"/><circle cx="563.88" cy="456.41" r="2.4"/><circle cx="565.93" cy="456.68" r="2.4"/><circle cx="567.96" cy="456.95" r="2.4"/><circle cx="569.99" cy="457.21" r="2.4"/><circle cx="572.01" cy="457.46" r="2.4"/><circle cx="574.02" cy="457.71" r="2.4"/><circle cx="576.03" cy="457.95" r="2.4"/><circle cx="578.03" cy="458.19" r="2.4"/><circle cx="580.01" cy="458.42" r="2.4"/><circle cx="581.99" cy="458.65" r="2.4"/><circle cx="583.97" cy="458.87" r="2.4"/><circle cx="585.93" cy="459.09" r="2.4"/><circle cx="587.89" cy="459.30" r="2.4"/><circle cx="589.84" cy="459.51" r="2.4"/><circle cx="591.78" cy="459.72" r="2.4"/><circle cx="593.72" cy="459.92" r="2.4"/><circle cx="595.65" cy="460.12" r="2.4"/><circle cx="597.57" cy="460.32" r="2.4"/><circle cx="599.48" cy="460.51" r="2.4"/><circle cx="601.39" cy="460.70" r="2.4"/><circle cx="603.29" cy="460.88" r="2.4"/><circle cx="605.19" cy="461.07" r="2.4"/><circle cx="607.07" cy="461.24" r="2.4"/><circle cx="608.96" cy="461.42" r="2.4"/><circle cx="610.83" cy="461.59" r="2.4"/><circle cx="612.70" cy="461.76" r="2.4"/><circle cx="614.56" cy="461.93" r="2.4"/><circle cx="616.41" cy="462.09" r="2.4"/><circle cx="618.26" cy="462.25" r="2.4"/><circle cx="620.10" cy="462.41" r="2.4"/><circle cx="621.94" cy="462.57" r="2.4"/><circle cx="623.77" cy="462.72" r="2.4"/><circle cx="625.59" cy="462.88" r="2.4"/><circle cx="627.41" cy="463.02" r="2.4"/><circle cx="629.22" cy="463.17" r="2.4"/><circle cx="631.03" cy="463.32" r="2.4"/><circle cx="632.83" cy="463.46" r="2.4"/><circle cx="634.63" cy="463.60" r="2.4"/><circle cx="636.42" cy="463.74" r="2.4"/><circle cx="638.20" cy="463.88" r="2.4"/><circle cx="639.98" cy="464.01" r="2.4"/><circle cx="641.75" cy="464.14" r="2.4"/><circle cx="643.51" cy="464.28" r="2.4"/><circle cx="645.28" cy="464.41" r="2.4"/><circle cx="647.03" cy="464.53" r="2.4"/><circle cx="648.78" cy="464.66" r="2.4"/><circle cx="650.53" cy="464.79" r="2.4"/><circle cx="652.27" cy="464.91" r="2.4"/><circle cx="654.00" cy="465.03" r="2.4"/><circle cx="655.73" cy="465.15" r="2.4"/><circle cx="657.46" cy="465.27" r="2.4"/><circle cx="659.18" cy="465.39" r="2.4"/><circle cx="660.89" cy="465.51" r="2.4"/><circle cx="662.60" cy="465.62" r="2.4"/><circle cx="664.30" cy="465.74" r="2.4"/><circle cx="666.00" cy="465.85" r="2.4"/><circle cx="667.70" cy="465.96" r="2.4"/><circle cx="669.39" cy="466.07" r="2.4"/><circle cx="671.07" cy="466.18" r="2.4"/><circle cx="672.75" cy="466.29" r="2.4"/><circle cx="674.43" cy="466.40" r="2.4"/><circle cx="676.10" cy="466.50" r="2.4"/><circle cx="677.77" cy="466.61" r="2.4"/><circle cx="679.43" cy="466.72" r="2.4"/><circle cx="681.09" cy="466.82" r="2.4"/><circle cx="682.74" cy="466.92" r="2.4"/><circle cx="684.39" cy="467.02" r="2.4"/><circle cx="686.03" cy="467.13" r="2.4"/><circle cx="687.67" cy="467.23" r="2.4"/><circle cx="689.31" cy="467.33" r="2.4"/><circle cx="690.94" cy="467.43" r="2.4"/><circle cx="692.56" cy="467.53" r="2.4"/><circle cx="694.19" cy="467.62" r="2.4"/><circle cx="695.80" cy="467.72" r="2.4"/><circle cx="697.42" cy="467.82" r="2.4"/><circle cx="699.03" cy="467.91" r="2.4"/><circle cx="700.63" cy="468.01" r="2.4"/><circle cx="702.24" cy="468.10" r="2.4"/></g>
<path d="M109.16,100.39 L124.55,89.81 L136.36,83.08 L146.31,79.24 L155.08,81.69 L163.01,86.50 L170.30,93.02 L177.09,100.71 L183.47,109.15 L189.50,118.39 L195.23,128.19 L200.71,138.07 L205.97,147.92 L211.02,157.68 L215.90,167.27 L220.62,176.76 L225.20,186.12 L229.64,195.30 L233.96,204.22 L238.17,212.84 L242.27,221.12 L246.28,229.04 L250.19,236.58 L254.03,243.74 L257.78,250.59 L261.46,257.19 L265.07,263.54 L268.61,269.65 L272.09,275.54 L275.51,281.21 L278.87,286.68 L282.18,291.95 L285.44,297.05 L288.65,301.96 L291.82,306.72 L294.93,311.32 L298.01,315.77 L301.04,320.07 L304.04,324.23 L306.99,328.25 L309.91,332.14 L312.80,335.89 L315.65,339.51 L318.46,343.00 L321.25,346.37 L324.00,349.62 L326.73,352.75 L329.42,355.76 L332.09,358.66 L334.73,361.46 L337.34,364.15 L339.93,366.73 L342.50,369.21 L345.04,371.60 L347.55,373.89 L350.05,376.08 L352.52,378.19 L354.97,380.20 L357.40,382.13 L359.81,383.98 L362.20,385.76 L364.56,387.46 L366.91,389.09 L369.25,390.67 L371.56,392.18 L373.85,393.65 L376.13,395.06 L378.39,396.42 L380.64,397.74 L382.87,399.02 L385.08,400.27 L387.28,401.47 L389.46,402.65 L391.63,403.79 L393.78,404.90 L395.92,405.99 L398.04,407.06 L400.15,408.10 L402.25,409.13 L404.33,410.13 L406.40,411.12 L408.46,412.10 L410.50,413.06 L412.54,414.00 L414.56,414.94 L416.57,415.86 L418.57,416.77 L420.55,417.66 L422.53,418.55 L424.49,419.41 L426.44,420.27 L428.39,421.11 L430.32,421.94 L432.24,422.76 L434.15,423.56 L436.05,424.35 L437.94,425.13 L439.82,425.89 L441.69,426.64 L443.56,427.38 L445.41,428.11 L447.25,428.82 L449.09,429.52 L450.92,430.20 L452.73,430.88 L454.54,431.54 L456.34,432.19 L458.13,432.82 L459.92,433.44 L461.69,434.05 L463.46,434.65 L465.22,435.23 L466.97,435.80 L468.71,436.36 L470.45,436.91 L472.18,437.45 L473.90,437.97 L475.61,438.49 L477.32,438.99 L479.02,439.49 L480.71,439.97 L482.40,440.45 L484.08,440.91 L485.75,441.37 L487.41,441.82 L489.07,442.25 L490.72,442.68 L492.37,443.11 L494.01,443.52 L495.64,443.92 L497.27,444.32 L498.89,444.71 L500.50,445.10 L502.11,445.47 L503.71,445.84 L505.31,446.20 L506.90,446.56 L508.48,446.91 L510.06,447.25 L511.63,447.59 L513.20,447.92 L514.76,448.24 L516.32,448.56 L517.87,448.87 L519.41,449.18 L520.95,449.48 L522.49,449.78 L524.02,450.07 L525.54,450.36 L527.06,450.64 L528.58,450.92 L530.09,451.19 L531.59,451.46 L533.09,451.72 L534.58,451.98 L536.07,452.23 L537.56,452.48 L539.04,452.73 L540.52,452.97 L541.99,453.21 L543.45,453.44 L544.91,453.68 L546.37,453.90 L547.83,454.13 L549.27,454.35 L550.72,454.56 L552.16,454.77 L553.59,454.98 L555.02,455.19 L556.45,455.39 L557.87,455.60 L559.29,455.79 L560.71,455.99 L562.12,456.18 L563.52,456.37 L564.93,456.55 L566.32,456.74 L567.72,456.92 L569.11,457.09 L570.50,457.27 L571.88,457.44 L573.26,457.61 L574.63,457.78 L576.00,457.94 L577.37,458.11 L578.74,458.27 L580.10,458.43 L581.45,458.58 L582.81,458.74 L584.16,458.89 L585.50,459.04 L586.84,459.19 L588.18,459.34 L589.52,459.48 L590.85,459.62 L592.18,459.76 L593.51,459.90 L594.83,460.04 L596.15,460.17 L597.46,460.31 L598.77,460.44 L600.08,460.57 L601.39,460.70 L602.69,460.82 L603.99,460.95 L605.28,461.07 L606.58,461.20 L607.87,461.32 L609.15,461.44 L610.44,461.56 L611.72,461.67 L613.00,461.79 L614.27,461.90 L615.54,462.02 L616.81,462.13 L618.08,462.24 L619.34,462.35 L620.60,462.46 L621.85,462.56 L623.11,462.67 L624.36,462.77 L625.61,462.88 L626.85,462.98 L628.10,463.08 L629.34,463.18 L630.57,463.28 L631.81,463.38 L633.04,463.48 L634.27,463.57 L635.49,463.67 L636.72,463.76 L637.94,463.86 L639.16,463.95 L640.37,464.04 L641.59,464.13 L642.80,464.22 L644.00,464.31 L645.21,464.40 L646.41,464.49 L647.61,464.58 L648.81,464.66 L650.01,464.75 L651.20,464.83 L652.39,464.92 L653.58,465.00 L654.76,465.08 L655.95,465.17 L657.13,465.25 L658.31,465.33 L659.48,465.41 L660.66,465.49 L661.83,465.57 L663.00,465.65 L664.16,465.73 L665.33,465.80 L666.49,465.88 L667.65,465.96 L668.81,466.03 L669.96,466.11 L671.12,466.18 L672.27,466.26 L673.42,466.33 L674.56,466.41 L675.71,466.48 L676.85,466.55 L677.99,466.62 L679.13,466.70 L680.27,466.77 L681.40,466.84 L682.53,466.91 L683.66,466.98 L684.79,467.05 L685.91,467.12 L687.04,467.19 L688.16,467.26 L689.28,467.33 L690.39,467.39 L691.51,467.46 L692.62,467.53 L693.73,467.60 L694.84,467.66 L695.95,467.73 L697.06,467.80 L698.16,467.86 L699.26,467.93 L700.36,467.99 L701.46,468.06 L702.55,468.12" fill="none" stroke="#9400d3" stroke-width="1.3"/>
<g fill="#9400d3"><circle cx="109.16" cy="100.39" r="2.4"/><circle cx="124.55" cy="89.81" r="2.4"/><circle cx="136.36" cy="83.08" r="2.4"/><circle cx="146.31" cy="79.24" r="2.4"/><circle cx="155.08" cy="81.69" r="2.4"/><circle cx="163.01" cy="86.50" r="2.4"/><circle cx="170.30" cy="93.02" r="2.4"/><circle cx="177.09" cy="100.71" r="2.4"/><circle cx="183.47" cy="109.15" r="2.4"/><circle cx="189.50" cy="118.39" r="2.4"/><circle cx="195.23" cy="128.19" r="2.4"/><circle cx="200.71" cy="138.07" r="2.4"/><circle cx="205.97" cy="147.92" r="2.4"/><circle cx="211.02" cy="157.68" r="2.4"/><circle cx="215.90" cy="167.27" r="2.4"/><circle cx="220.62" cy="176.76" r="2.4"/><circle cx="225.20" cy="186.12" r="2.4"/><circle cx="229.64" cy="195.30" r="2.4"/><circle cx="233.96" cy="204.22" r="2.4"/><circle cx="238.17" cy="212.84" r="2.4"/><circle cx="242.27" cy="221.12" r="2.4"/><circle cx="246.28" cy="229.04" r="2.4"/><circle cx="250.19" cy="236.58" r="2.4"/><circle cx="254.03" cy="243.74" r="2.4"/><circle cx="257.78" cy="250.59" r="2.4"/><circle cx="261.46" cy="257.19" r="2.4"/><circle cx="265.07" cy="263.54" r="2.4"/><circle cx="268.61" cy="269.65" r="2.4"/><circle cx="272.09" cy="275.54" r="2.4"/><circle cx="275.51" cy="281.21" r="2.4"/><circle cx="278.87" cy="286.68" r="2.4"/><circle cx="282.18" cy="291.95" r="2.4"/><circle cx="285.44" cy="297.05" r="2.4"/><circle cx="288.65" cy="301.96" r="2.4"/><circle cx="291.82" cy="306.72" r="2.4"/><circle cx="294.93" cy="311.32" r="2.4"/><circle cx="298.01" cy="315.77" r="2.4"/><circle cx="301.04" cy="320.07" r="2.4"/><circle cx="304.04" cy="324.23" r="2.4"/><circle cx="306.99" cy="328.25" r="2.4"/><circle cx="309.91" cy="332.14" r="2.4"/><circle cx="312.80" cy="335.89" r="2.4"/><circle cx="315.65" cy="339.51" r="2.4"/><circle cx="318.46" cy="343.00" r="2.4"/><circle cx="321.25" cy="346.37" r="2.4"/><circle cx="324.00" cy="349.62" r="2.4"/><circle cx="326.73" cy="352.75" r="2.4"/><circle cx="329.42" cy="355.76" r="2.4"/><circle cx="332.09" cy="358.66" r="2.4"/><circle cx="334.73" cy="361.46" r="2.4"/><circle cx="337.34" cy="364.15" r="2.4"/><circle cx="339.93" cy="366.73" r="2.4"/><circle cx="342.50" cy="369.21" r="2.4"/><circle cx="345.04" cy="371.60" r="2.4"/><circle cx="347.55" cy="373.89" r="2.4"/><circle cx="350.05" cy="376.08" r="2.4"/><circle cx="352.52" cy="378.19" r="2.4"/><circle cx="354.97" cy="380.20" r="2.4"/><circle cx="357.40" cy="382.13" r="2.4"/><circle cx="359.81" cy="383.98" r="2.4"/><circle cx="362.20" cy="385.76" r="2.4"/><circle cx="364.56" cy="387.46" r="2.4"/><circle cx="366.91" cy="389.09" r="2.4"/><circle cx="369.25" cy="390.67" r="2.4"/><circle cx="371.56" cy="392.18" r="2.4"/><circle cx="373.85" cy="393.65" r="2.4"/><circle cx="376.13" cy="395.06" r="2.4"/><circle cx="378.39" cy="396.42" r="2.4"/><circle cx="380.64" cy="397.74" r="2.4"/><circle cx="382.87" cy="399.02" r="2.4"/><circle cx="385.08" cy="400.27" r="2.4"/><circle cx="387.28" cy="401.47" r="2.4"/><circle cx="389.46" cy="402.65" r="2.4"/><circle cx="391.63" cy="403.79" r="2.4"/><circle cx="393.78" cy="404.90" r="2.4"/><circle cx="395.92" cy="405.99" r="2.4"/><circle cx="398.04" cy="407.06" r="2.4"/><circle cx="400.15" cy="408.10" r="2.4"/><circle cx="402.25" cy="409.13" r="2.4"/><circle cx="404.33" cy="410.13" r="2.4"/><circle cx="406.40" cy="411.12" r="2.4"/><circle cx="408.46" cy="412.10" r="2.4"/><circle cx="410.50" cy="413.06" r="2.4"/><circle cx="412.54" cy="414.00" r="2.4"/><circle cx="414.56" cy="414.94" r="2.4"/><circle cx="416.57" cy="415.86" r="2.4"/><circle cx="418.57" cy="416.77" r="2.4"/><circle cx="420.55" cy="417.66" r="2.4"/><circle cx="422.53" cy="418.55" r="2.4"/><circle cx="424.49" cy="419.41" r="2.4"/><circle cx="426.44" cy="420.27" r="2.4"/><circle cx="428.39" cy="421.11" r="2.4"/><circle cx="430.32" cy="421.94" r="2.4"/><circle cx="432.24" cy="422.76" r="2.4"/><circle cx="434.15" cy="423.56" r="2.4"/><circle cx="436.05" cy="424.35" r="2.4"/><circle cx="437.94" cy="425.13" r="2.4"/><circle cx="439.82" cy="425.89" r="2.4"/><circle cx="441.69" cy="426.64" r="2.4"/><circle cx="443.56" cy="427.38" r="2.4"/><circle cx="445.41" cy="428.11" r="2.4"/><circle cx="447.25" cy="428.82" r="2.4"/><circle cx="449.09" cy="429.52" r="2.4"/><circle cx="450.92" cy="430.20" r="2.4"/><circle cx="452.73" cy="430.88" r="2.4"/><circle cx="454.54" cy="431.54" r="2.4"/><circle cx="456.34" cy="432.19" r="2.4"/><circle cx="458.13" cy="432.82" r="2.4"/><circle cx="459.92" cy="433.44" r="2.4"/><circle cx="461.69" cy="434.05" r="2.4"/><circle cx="463.46" cy="434.65" r="2.4"/><circle cx="465.22" cy="435.23" r="2.4"/><circle cx="466.97" cy="435.80" r="2.4"/><circle cx="468.71" cy="436.36" r="2.4"/><circle cx="470.45" cy="436.91" r="2.4"/><circle cx="472.18" cy="437.45" r="2.4"/><circle cx="473.90" cy="437.97" r="2.4"/><circle cx="475.61" cy="438.49" r="2.4"/><circle cx="477.32" cy="438.99" r="2.4"/><circle cx="479.02" cy="439.49" r="2.4"/><circle cx="480.71" cy="439.97" r="2.4"/><circle cx="482.40" cy="440.45" r="2.4"/><circle cx="484.08" cy="440.91" r="2.4"/><circle cx="485.75" cy="441.37" r="2.4"/><circle cx="487.41" cy="441.82" r="2.4"/><circle cx="489.07" cy="442.25" r="2.4"/><circle cx="490.72" cy="442.68" r="2.4"/><circle cx="492.37" cy="443.11" r="2.4"/><circle cx="494.01" cy="443.52" r="2.4"/><circle cx="495.64" cy="443.92" r="2.4"/><circle cx="497.27" cy="444.32" r="2.4"/><circle cx="498.89" cy="444.71" r="2.4"/><circle cx="500.50" cy="445.10" r="2.4"/><circle cx="502.11" cy="445.47" r="2.4"/><circle cx="503.71" cy="445.84" r="2.4"/><circle cx="505.31" cy="446.20" r="2.4"/><circle cx="506.90" cy="446.56" r="2.4"/><circle cx="508.48" cy="446.91" r="2.4"/><circle cx="510.06" cy="447.25" r="2.4"/><circle cx="511.63" cy="447.59" r="2.4"/><circle cx="513.20" cy="447.92" r="2.4"/><circle cx="514.76" cy="448.24" r="2.4"/><circle cx="516.32" cy="448.56" r="2.4"/><circle cx="517.87" cy="448.87" r="2.4"/><circle cx="519.41" cy="449.18" r="2.4"/><circle cx="520.95" cy="449.48" r="2.4"/><circle cx="522.49" cy="449.78" r="2.4"/><circle cx="524.02" cy="450.07" r="2.4"/><circle cx="525.54" cy="450.36" r="2.4"/><circle cx="527.06" cy="450.64" r="2.4"/><circle cx="528.58" cy="450.92" r="2.4"/><circle cx="530.09" cy="451.19" r="2.4"/><circle cx="531.59" cy="451.46" r="2.4"/><circle cx="533.09" cy="451.72" r="2.4"/><circle cx="534.58" cy="451.98" r="2.4"/><circle cx="536.07" cy="452.23" r="2.4"/><circle cx="537.56" cy="452.48" r="2.4"/><circle cx="539.04" cy="452.73" r="2.4"/><circle cx="540.52" cy="452.97" r="2.4"/><circle cx="541.99" cy="453.21" r="2.4"/><circle cx="543.45" cy="453.44" r="2.4"/><circle cx="544.91" cy="453.68" r="2.4"/><circle cx="546.37" cy="453.90" r="2.4"/><circle cx="547.83" cy="454.13" r="2.4"/><circle cx="549.27" cy="454.35" r="2.4"/><circle cx="550.72" cy="454.56" r="2.4"/><circle cx="552.16" cy="454.77" r="2.4"/><circle cx="553.59" cy="454.98" r="2.4"/><circle cx="555.02" cy="455.19" r="2.4"/><circle cx="556.45" cy="455.39" r="2.4"/><circle cx="557.87" cy="455.60" r="2.4"/><circle cx="559.29" cy="455.79" r="2.4"/><circle cx="560.71" cy="455.99" r="2.4"/><circle cx="562.12" cy="456.18" r="2.4"/><circle cx="563.52" cy="456.37" r="2.4"/><circle cx="564.93" cy="456.55" r="2.4"/><circle cx="566.32" cy="456.74" r="2.4"/><circle cx="567.72" cy="456.92" r="2.4"/><circle cx="569.11" cy="457.09" r="2.4"/><circle cx="570.50" cy="457.27" r="2.4"/><circle cx="571.88" cy="457.44" r="2.4"/><circle cx="573.26" cy="457.61" r="2.4"/><circle cx="574.63" cy="457.78" r="2.4"/><circle cx="576.00" cy="457.94" r="2.4"/><circle cx="577.37" cy="458.11" r="2.4"/><circle cx="578.74" cy="458.27" r="2.4"/><circle cx="580.10" cy="458.43" r="2.4"/><circle cx="581.45" cy="458.58" r="2.4"/><circle cx="582.81" cy="458.74" r="2.4"/><circle cx="584.16" cy="458.89" r="2.4"/><circle cx="585.50" cy="459.04" r="2.4"/><circle cx="586.84" cy="459.19" r="2.4"/><circle cx="588.18" cy="459.34" r="2.4"/><circle cx="589.52" cy="459.48" r="2.4"/><circle cx="590.85" cy="459.62" r="2.4"/><circle cx="592.18" cy="459.76" r="2.4"/><circle cx="593.51" cy="459.90" r="2.4"/><circle cx="594.83" cy="460.04" r="2.4"/><circle cx="596.15" cy="460.17" r="2.4"/><circle cx="597.46" cy="460.31" r="2.4"/><circle cx="598.77" cy="460.44" r="2.4"/><circle cx="600.08" cy="460.57" r="2.4"/><circle cx="601.39" cy="460.70" r="2.4"/><circle cx="602.69" cy="460.82" r="2.4"/><circle cx="603.99" cy="460.95" r="2.4"/><circle cx="605.28" cy="461.07" r="2.4"/><circle cx="606.58" cy="461.20" r="2.4"/><circle cx="607.87" cy="461.32" r="2.4"/><circle cx="609.15" cy="461.44" r="2.4"/><circle cx="610.44" cy="461.56" r="2.4"/><circle cx="611.72" cy="461.67" r="2.4"/><circle cx="613.00" cy="461.79" r="2.4"/><circle cx="614.27" cy="461.90" r="2.4"/><circle cx="615.54" cy="462.02" r="2.4"/><circle cx="616.81" cy="462.13" r="2.4"/><circle cx="618.08" cy="462.24" r="2.4"/><circle cx="619.34" cy="462.35" r="2.4"/><circle cx="620.60" cy="462.46" r="2.4"/><circle cx="621.85" cy="462.56" r="2.4"/><circle cx="623.11" cy="462.67" r="2.4"/><circle cx="624.36" cy="462.77" r="2.4"/><circle cx="625.61" cy="462.88" r="2.4"/><circle cx="626.85" cy="462.98" r="2.4"/><circle cx="628.10" cy="463.08" r="2.4"/><circle cx="629.34" cy="463.18" r="2.4"/><circle cx="630.57" cy="463.28" r="2.4"/><circle cx="631.81" cy="463.38" r="2.4"/><circle cx="633.04" cy="463.48" r="2.4"/><circle cx="634.27" cy="463.57" r="2.4"/><circle cx="635.49" cy="463.67" r="2.4"/><circle cx="636.72" cy="463.76" r="2.4"/><circle cx="637.94" cy="463.86" r="2.4"/><circle cx="639.16" cy="463.95" r="2.4"/><circle cx="640.37" cy="464.04" r="2.4"/><circle cx="641.59" cy="464.13" r="2.4"/><circle cx="642.80" cy="464.22" r="2.4"/><circle cx="644.00" cy="464.31" r="2.4"/><circle cx="645.21" cy="464.40" r="2.4"/><circle cx="646.41" cy="464.49" r="2.4"/><circle cx="647.61" cy="464.58" r="2.4"/><circle cx="648.81" cy="464.66" r="2.4"/><circle cx="650.01" cy="464.75" r="2.4"/><circle cx="651.20" cy="464.83" r="2.4"/><circle cx="652.39" cy="464.92" r="2.4"/><circle cx="653.58" cy="465.00" r="2.4"/><circle cx="654.76" cy="465.08" r="2.4"/><circle cx="655.95" cy="465.17" r="2.4"/><circle cx="657.13" cy="465.25" r="2.4"/><circle cx="658.31" cy="465.33" r="2.4"/><circle cx="659.48" cy="465.41" r="2.4"/><circle cx="660.66" cy="465.49" r="2.4"/><circle cx="661.83" cy="465.57" r="2.4"/><circle cx="663.00" cy="465.65" r="2.4"/><circle cx="664.16" cy="465.73" r="2.4"/><circle cx="665.33" cy="465.80" r="2.4"/><circle cx="666.49" cy="465.88" r="2.4"/><circle cx="667.65" cy="465.96" r="2.4"/><circle cx="668.81" cy="466.03" r="2.4"/><circle cx="669.96" cy="466.11" r="2.4"/><circle cx="671.12" cy="466.18" r="2.4"/><circle cx="672.27" cy="466.26" r="2.4"/><circle cx="673.42" cy="466.33" r="2.4"/><circle cx="674.56" cy="466.41" r="2.4"/><circle cx="675.71" cy="466.48" r="2.4"/><circle cx="676.85" cy="466.55" r="2.4"/><circle cx="677.99" cy="466.62" r="2.4"/><circle cx="679.13" cy="466.70" r="2.4"/><circle cx="680.27" cy="466.77" r="2.4"/><circle cx="681.40" cy="466.84" r="2.4"/><circle cx="682.53" cy="466.91" r="2.4"/><circle cx="683.66" cy="466.98" r="2.4"/><circle cx="684.79" cy="467.05" r="2.4"/><circle cx="685.91" cy="467.12" r="2.4"/><circle cx="687.04" cy="467.19" r="2.4"/><circle cx="688.16" cy="467.26" r="2.4"/><circle cx="689.28" cy="467.33" r="2.4"/><circle cx="690.39" cy="467.39" r="2.4"/><circle cx="691.51" cy="467.46" r="2.4"/><circle cx="692.62" cy="467.53" r="2.4"/><circle cx="693.73" cy="467.60" r="2.4"/><circle cx="694.84" cy="467.66" r="2.4"/><circle cx="695.95" cy="467.73" r="2.4"/><circle cx="697.06" cy="467.80" r="2.4"/><circle cx="698.16" cy="467.86" r="2.4"/><circle cx="699.26" cy="467.93" r="2.4"/><circle cx="700.36" cy="467.99" r="2.4"/><circle cx="701.46" cy="468.06" r="2.4"/><circle cx="702.55" cy="468.12" r="2.4"/></g>
<path d="M105.25,115.56 L119.03,102.42 L129.60,92.27 L138.51,84.47 L146.36,83.19 L153.45,83.94 L159.98,86.72 L166.06,90.67 L171.76,95.48 L177.16,101.55 L182.29,108.11 L187.19,115.20 L191.90,122.82 L196.42,130.62 L200.79,138.48 L205.01,146.33 L209.11,154.14 L213.08,161.86 L216.95,169.48 L220.71,177.05 L224.39,184.54 L227.97,191.93 L231.48,199.16 L234.91,206.22 L238.27,213.09 L241.56,219.74 L244.79,226.16 L247.96,232.34 L251.08,238.28 L254.14,243.96 L257.15,249.47 L260.11,254.81 L263.03,259.98 L265.90,265.00 L268.73,269.87 L271.52,274.60 L274.27,279.18 L276.99,283.64 L279.67,287.96 L282.31,292.16 L284.93,296.25 L287.51,300.22 L290.06,304.09 L292.58,307.85 L295.07,311.52 L297.54,315.09 L299.98,318.57 L302.39,321.95 L304.78,325.25 L307.14,328.45 L309.48,331.57 L311.80,334.60 L314.09,337.54 L316.36,340.41 L318.62,343.19 L320.85,345.89 L323.06,348.52 L325.25,351.06 L327.43,353.54 L329.58,355.94 L331.72,358.27 L333.84,360.53 L335.94,362.72 L338.03,364.84 L340.10,366.89 L342.15,368.89 L344.19,370.81 L346.22,372.68 L348.23,374.49 L350.22,376.23 L352.20,377.92 L354.17,379.55 L356.12,381.13 L358.06,382.65 L359.98,384.12 L361.90,385.54 L363.80,386.91 L365.69,388.25 L367.56,389.54 L369.43,390.79 L371.28,392.01 L373.12,393.19 L374.96,394.33 L376.77,395.45 L378.58,396.54 L380.38,397.59 L382.17,398.63 L383.95,399.63 L385.71,400.62 L387.47,401.58 L389.22,402.52 L390.96,403.44 L392.69,404.34 L394.41,405.23 L396.12,406.10 L397.82,406.95 L399.51,407.79 L401.19,408.62 L402.87,409.43 L404.54,410.23 L406.19,411.02 L407.85,411.81 L409.49,412.58 L411.12,413.35 L412.75,414.10 L414.37,414.85 L415.98,415.59 L417.58,416.32 L419.18,417.05 L420.77,417.76 L422.35,418.47 L423.92,419.16 L425.49,419.85 L427.05,420.54 L428.61,421.21 L430.15,421.87 L431.69,422.53 L433.23,423.18 L434.75,423.81 L436.28,424.44 L437.79,425.07 L439.30,425.68 L440.80,426.29 L442.30,426.88 L443.79,427.47 L445.27,428.05 L446.75,428.62 L448.22,429.19 L449.69,429.74 L451.15,430.29 L452.61,430.83 L454.06,431.36 L455.50,431.88 L456.94,432.40 L458.37,432.90 L459.80,433.40 L461.22,433.89 L462.64,434.37 L464.05,434.85 L465.46,435.31 L466.87,435.77 L468.26,436.22 L469.66,436.66 L471.04,437.10 L472.43,437.52 L473.81,437.95 L475.18,438.36 L476.55,438.77 L477.91,439.17 L479.27,439.56 L480.63,439.95 L481.98,440.33 L483.32,440.71 L484.67,441.07 L486.00,441.44 L487.34,441.80 L488.67,442.15 L489.99,442.49 L491.31,442.84 L492.63,443.17 L493.94,443.50 L495.25,443.83 L496.55,444.15 L497.85,444.46 L499.15,444.78 L500.44,445.08 L501.73,445.38 L503.02,445.68 L504.30,445.97 L505.57,446.26 L506.85,446.55 L508.12,446.83 L509.38,447.10 L510.65,447.38 L511.90,447.64 L513.16,447.91 L514.41,448.17 L515.66,448.43 L516.90,448.68 L518.14,448.93 L519.38,449.17 L520.62,449.42 L521.85,449.66 L523.07,449.89 L524.30,450.12 L525.52,450.35 L526.74,450.58 L527.95,450.80 L529.16,451.02 L530.37,451.24 L531.57,451.45 L532.78,451.66 L533.97,451.87 L535.17,452.08 L536.36,452.28 L537.55,452.48 L538.74,452.68 L539.92,452.87 L541.10,453.07 L542.28,453.26 L543.45,453.44 L544.62,453.63 L545.79,453.81 L546.96,453.99 L548.12,454.17 L549.28,454.35 L550.44,454.52 L551.59,454.69 L552.74,454.86 L553.89,455.03 L555.04,455.19 L556.18,455.36 L557.32,455.52 L558.46,455.68 L559.59,455.83 L560.73,455.99 L561.86,456.14 L562.98,456.29 L564.11,456.44 L565.23,456.59 L566.35,456.74 L567.47,456.88 L568.58,457.03 L569.69,457.17 L570.80,457.31 L571.91,457.45 L573.02,457.58 L574.12,457.72 L575.22,457.85 L576.32,457.98 L577.41,458.11 L578.50,458.24 L579.59,458.37 L580.68,458.50 L581.77,458.62 L582.85,458.74 L583.93,458.87 L585.01,458.99 L586.09,459.11 L587.16,459.22 L588.24,459.34 L589.31,459.46 L590.37,459.57 L591.44,459.68 L592.50,459.80 L593.56,459.91 L594.62,460.02 L595.68,460.13 L596.73,460.23 L597.79,460.34 L598.84,460.45 L599.89,460.55 L600.93,460.65 L601.98,460.76 L603.02,460.86 L604.06,460.96 L605.10,461.06 L606.13,461.15 L607.17,461.25 L608.20,461.35 L609.23,461.44 L610.26,461.54 L611.28,461.63 L612.31,461.73 L613.33,461.82 L614.35,461.91 L615.37,462.00 L616.39,462.09 L617.40,462.18 L618.41,462.27 L619.42,462.35 L620.43,462.44 L621.44,462.53 L622.45,462.61 L623.45,462.70 L624.45,462.78 L625.45,462.86 L626.45,462.95 L627.45,463.03 L628.44,463.11 L629.43,463.19 L630.42,463.27 L631.41,463.35 L632.40,463.43 L633.39,463.50 L634.37,463.58 L635.35,463.66 L636.33,463.73 L637.31,463.81 L638.29,463.88 L639.26,463.96 L640.24,464.03 L641.21,464.10 L642.18,464.18 L643.15,464.25 L644.12,464.32 L645.08,464.39 L646.05,464.46 L647.01,464.53 L647.97,464.60 L648.93,464.67 L649.89,464.74 L650.84,464.81 L651.80,464.88 L652.75,464.94 L653.70,465.01 L654.65,465.08 L655.60,465.14 L656.55,465.21 L657.49,465.27 L658.43,465.34 L659.38,465.40 L660.32,465.47 L661.26,465.53 L662.19,465.59 L663.13,465.66 L664.06,465.72 L665.00,465.78 L665.93,465.84 L666.86,465.91 L667.79,465.97 L668.72,466.03 L669.64,466.09 L670.57,466.15 L671.49,466.21 L672.41,466.27 L673.33,466.33 L674.25,466.39 L675.17,466.44 L676.08,466.50 L677.00,466.56 L677.91,466.62 L678.82,466.68 L679.73,466.73 L680.64,466.79 L681.55,466.85 L682.46,466.90 L683.36,466.96 L684.26,467.02 L685.17,467.07 L686.07,467.13 L686.97,467.18 L687.87,467.24 L688.76,467.29 L689.66,467.35 L690.55,467.40 L691.45,467.46 L692.34,467.51 L693.23,467.57 L694.12,467.62 L695.01,467.67 L695.89,467.73 L696.78,467.78 L697.66,467.83 L698.55,467.88 L699.43,467.94 L700.31,467.99 L701.19,468.04 L702.07,468.09 L702.94,468.15 L703.82,468.20 L704.69,468.25" fill="none" stroke="#00ffff" stroke-width="1.3"/>
<g fill="#00ffff"><circle cx="105.25" cy="115.56" r="2.4"/><circle cx="119.03" cy="102.42" r="2.4"/><circle cx="129.60" cy="92.27" r="2.4"/><circle cx="138.51" cy="84.47" r="2.4"/><circle cx="146.36" cy="83.19" r="2.4"/><circle cx="153.45" cy="83.94" r="2.4"/><circle cx="159.98" cy="86.72" r="2.4"/><circle cx="166.06" cy="90.67" r="2.4"/><circle cx="171.76" cy="95.48" r="2.4"/><circle cx="177.16" cy="101.55" r="2.4"/><circle cx="182.29" cy="108.11" r="2.4"/><circle cx="187.19" cy="115.20" r="2.4"/><circle cx="191.90" cy="122.82" r="2.4"/><circle cx="196.42" cy="130.62" r="2.4"/><circle cx="200.79" cy="138.48" r="2.4"/><circle cx="205.01" cy="146.33" r="2.4"/><circle cx="209.11" cy="154.14" r="2.4"/><circle cx="213.08" cy="161.86" r="2.4"/><circle cx="216.95" cy="169.48" r="2.4"/><circle cx="220.71" cy="177.05" r="2.4"/><circle cx="224.39" cy="184.54" r="2.4"/><circle cx="227.97" cy="191.93" r="2.4"/><circle cx="231.48" cy="199.16" r="2.4"/><circle cx="234.91" cy="206.22" r="2.4"/><circle cx="238.27" cy="213.09" r="2.4"/><circle cx="241.56" cy="219.74" r="2.4"/><circle cx="244.79" cy="226.16" r="2.4"/><circle cx="247.96" cy="232.34" r="2.4"/><circle cx="251.08" cy="238.28" r="2.4"/><circle cx="254.14" cy="243.96" r="2.4"/><circle cx="257.15" cy="249.47" r="2.4"/><circle cx="260.11" cy="254.81" r="2.4"/><circle cx="263.03" cy="259.98" r="2.4"/><circle cx="265.90" cy="265.00" r="2.4"/><circle cx="268.73" cy="269.87" r="2.4"/><circle cx="271.52" cy="274.60" r="2.4"/><circle cx="274.27" cy="279.18" r="2.4"/><circle cx="276.99" cy="283.64" r="2.4"/><circle cx="279.67" cy="287.96" r="2.4"/><circle cx="282.31" cy="292.16" r="2.4"/><circle cx="284.93" cy="296.25" r="2.4"/><circle cx="287.51" cy="300.22" r="2.4"/><circle cx="290.06" cy="304.09" r="2.4"/><circle cx="292.58" cy="307.85" r="2.4"/><circle cx="295.07" cy="311.52" r="2.4"/><circle cx="297.54" cy="315.09" r="2.4"/><circle cx="299.98" cy="318.57" r="2.4"/><circle cx="302.39" cy="321.95" r="2.4"/><circle cx="304.78" cy="325.25" r="2.4"/><circle cx="307.14" cy="328.45" r="2.4"/><circle cx="309.48" cy="331.57" r="2.4"/><circle cx="311.80" cy="334.60" r="2.4"/><circle cx="314.09" cy="337.54" r="2.4"/><circle cx="316.36" cy="340.41" r="2.4"/><circle cx="318.62" cy="343.19" r="2.4"/><circle cx="320.85" cy="345.89" r="2.4"/><circle cx="323.06" cy="348.52" r="2.4"/><circle cx="325.25" cy="351.06" r="2.4"/><circle cx="327.43" cy="353.54" r="2.4"/><circle cx="329.58" cy="355.94" r="2.4"/><circle cx="331.72" cy="358.27" r="2.4"/><circle cx="333.84" cy="360.53" r="2.4"/><circle cx="335.94" cy="362.72" r="2.4"/><circle cx="338.03" cy="364.84" r="2.4"/><circle cx="340.10" cy="366.89" r="2.4"/><circle cx="342.15" cy="368.89" r="2.4"/><circle cx="344.19" cy="370.81" r="2.4"/><circle cx="346.22" cy="372.68" r="2.4"/><circle cx="348.23" cy="374.49" r="2.4"/><circle cx="350.22" cy="376.23" r="2.4"/><circle cx="352.20" cy="377.92" r="2.4"/><circle cx="354.17" cy="379.55" r="2.4"/><circle cx="356.12" cy="381.13" r="2.4"/><circle cx="358.06" cy="382.65" r="2.4"/><circle cx="359.98" cy="384.12" r="2.4"/><circle cx="361.90" cy="385.54" r="2.4"/><circle cx="363.80" cy="386.91" r="2.4"/><circle cx="365.69" cy="388.25" r="2.4"/><circle cx="367.56" cy="389.54" r="2.4"/><circle cx="369.43" cy="390.79" r="2.4"/><circle cx="371.28" cy="392.01" r="2.4"/><circle cx="373.12" cy="393.19" r="2.4"/><circle cx="374.96" cy="394.33" r="2.4"/><circle cx="376.77" cy="395.45" r="2.4"/><circle cx="378.58" cy="396.54" r="2.4"/><circle cx="380.38" cy="397.59" r="2.4"/><circle cx="382.17" cy="398.63" r="2.4"/><circle cx="383.95" cy="399.63" r="2.4"/><circle cx="385.71" cy="400.62" r="2.4"/><circle cx="387.47" cy="401.58" r="2.4"/><circle cx="389.22" cy="402.52" r="2.4"/><circle cx="390.96" cy="403.44" r="2.4"/><circle cx="392.69" cy="404.34" r="2.4"/><circle cx="394.41" cy="405.23" r="2.4"/><circle cx="396.12" cy="406.10" r="2.4"/><circle cx="397.82" cy="406.95" r="2.4"/><circle cx="399.51" cy="407.79" r="2.4"/><circle cx="401.19" cy="408.62" r="2.4"/><circle cx="402.87" cy="409.43" r="2.4"/><circle cx="404.54" cy="410.23" r="2.4"/><circle cx="406.19" cy="411.02" r="2.4"/><circle cx="407.85" cy="411.81" r="2.4"/><circle cx="409.49" cy="412.58" r="2.4"/><circle cx="411.12" cy="413.35" r="2.4"/><circle cx="412.75" cy="414.10" r="2.4"/><circle cx="414.37" cy="414.85" r="2.4"/><circle cx="415.98" cy="415.59" r="2.4"/><circle cx="417.58" cy="416.32" r="2.4"/><circle cx="419.18" cy="417.05" r="2.4"/><circle cx="420.77" cy="417.76" r="2.4"/><circle cx="422.35" cy="418.47" r="2.4"/><circle cx="423.92" cy="419.16" r="2.4"/><circle cx="425.49" cy="419.85" r="2.4"/><circle cx="427.05" cy="420.54" r="2.4"/><circle cx="428.61" cy="421.21" r="2.4"/><circle cx="430.15" cy="421.87" r="2.4"/><circle cx="431.69" cy="422.53" r="2.4"/><circle cx="433.23" cy="423.18" r="2.4"/><circle cx="434.75" cy="423.81" r="2.4"/><circle cx="436.28" cy="424.44" r="2.4"/><circle cx="437.79" cy="425.07" r="2.4"/><circle cx="439.30" cy="425.68" r="2.4"/><circle cx="440.80" cy="426.29" r="2.4"/><circle cx="442.30" cy="426.88" r="2.4"/><circle cx="443.79" cy="427.47" r="2.4"/><circle cx="445.27" cy="428.05" r="2.4"/><circle cx="446.75" cy="428.62" r="2.4"/><circle cx="448.22" cy="429.19" r="2.4"/><circle cx="449.69" cy="429.74" r="2.4"/><circle cx="451.15" cy="430.29" r="2.4"/><circle cx="452.61" cy="430.83" r="2.4"/><circle cx="454.06" cy="431.36" r="2.4"/><circle cx="455.50" cy="431.88" r="2.4"/><circle cx="456.94" cy="432.40" r="2.4"/><circle cx="458.37" cy="432.90" r="2.4"/><circle cx="459.80" cy="433.40" r="2.4"/><circle cx="461.22" cy="433.89" r="2.4"/><circle cx="462.64" cy="434.37" r="2.4"/><circle cx="464.05" cy="434.85" r="2.4"/><circle cx="465.46" cy="435.31" r="2.4"/><circle cx="466.87" cy="435.77" r="2.4"/><circle cx="468.26" cy="436.22" r="2.4"/><circle cx="469.66" cy="436.66" r="2.4"/><circle cx="471.04" cy="437.10" r="2.4"/><circle cx="472.43" cy="437.52" r="2.4"/><circle cx="473.81" cy="437.95" r="2.4"/><circle cx="475.18" cy="438.36" r="2.4"/><circle cx="476.55" cy="438.77" r="2.4"/><circle cx="477.91" cy="439.17" r="2.4"/><circle cx="479.27" cy="439.56" r="2.4"/><circle cx="480.63" cy="439.95" r="2.4"/><circle cx="481.98" cy="440.33" r="2.4"/><circle cx="483.32" cy="440.71" r="2.4"/><circle cx="484.67" cy="441.07" r="2.4"/><circle cx="486.00" cy="441.44" r="2.4"/><circle cx="487.34" cy="441.80" r="2.4"/><circle cx="488.67" cy="442.15" r="2.4"/><circle cx="489.99" cy="442.49" r="2.4"/><circle cx="491.31" cy="442.84" r="2.4"/><circle cx="492.63" cy="443.17" r="2.4"/><circle cx="493.94" cy="443.50" r="2.4"/><circle cx="495.25" cy="443.83" r="2.4"/><circle cx="496.55" cy="444.15" r="2.4"/><circle cx="497.85" cy="444.46" r="2.4"/><circle cx="499.15" cy="444.78" r="2.4"/><circle cx="500.44" cy="445.08" r="2.4"/><circle cx="501.73" cy="445.38" r="2.4"/><circle cx="503.02" cy="445.68" r="2.4"/><circle cx="504.30" cy="445.97" r="2.4"/><circle cx="505.57" cy="446.26" r="2.4"/><circle cx="506.85" cy="446.55" r="2.4"/><circle cx="508.12" cy="446.83" r="2.4"/><circle cx="509.38" cy="447.10" r="2.4"/><circle cx="510.65" cy="447.38" r="2.4"/><circle cx="511.90" cy="447.64" r="2.4"/><circle cx="513.16" cy="447.91" r="2.4"/><circle cx="514.41" cy="448.17" r="2.4"/><circle cx="515.66" cy="448.43" r="2.4"/><circle cx="516.90" cy="448.68" r="2.4"/><circle cx="518.14" cy="448.93" r="2.4"/><circle cx="519.38" cy="449.17" r="2.4"/><circle cx="520.62" cy="449.42" r="2.4"/><circle cx="521.85" cy="449.66" r="2.4"/><circle cx="523.07" cy="449.89" r="2.4"/><circle cx="524.30" cy="450.12" r="2.4"/><circle cx="525.52" cy="450.35" r="2.4"/><circle cx="526.74" cy="450.58" r="2.4"/><circle cx="527.95" cy="450.80" r="2.4"/><circle cx="529.16" cy="451.02" r="2.4"/><circle cx="530.37" cy="451.24" r="2.4"/><circle cx="531.57" cy="451.45" r="2.4"/><circle cx="532.78" cy="451.66" r="2.4"/><circle cx="533.97" cy="451.87" r="2.4"/><circle cx="535.17" cy="452.08" r="2.4"/><circle cx="536.36" cy="452.28" r="2.4"/><circle cx="537.55" cy="452.48" r="2.4"/><circle cx="538.74" cy="452.68" r="2.4"/><circle cx="539.92" cy="452.87" r="2.4"/><circle cx="541.10" cy="453.07" r="2.4"/><circle cx="542.28" cy="453.26" r="2.4"/><circle cx="543.45" cy="453.44" r="2.4"/><circle cx="544.62" cy="453.63" r="2.4"/><circle cx="545.79" cy="453.81" r="2.4"/><circle cx="546.96" cy="453.99" r="2.4"/><circle cx="548.12" cy="454.17" r="2.4"/><circle cx="549.28" cy="454.35" r="2.4"/><circle cx="550.44" cy="454.52" r="2.4"/><circle cx="551.59" cy="454.69" r="2.4"/><circle cx="552.74" cy="454.86" r="2.4"/><circle cx="553.89" cy="455.03" r="2.4"/><circle cx="555.04" cy="455.19" r="2.4"/><circle cx="556.18" cy="455.36" r="2.4"/><circle cx="557.32" cy="455.52" r="2.4"/><circle cx="558.46" cy="455.68" r="2.4"/><circle cx="559.59" cy="455.83" r="2.4"/><circle cx="560.73" cy="455.99" r="2.4"/><circle cx="561.86" cy="456.14" r="2.4"/><circle cx="562.98" cy="456.29" r="2.4"/><circle cx="564.11" cy="456.44" r="2.4"/><circle cx="565.23" cy="456.59" r="2.4"/><circle cx="566.35" cy="456.74" r="2.4"/><circle cx="567.47" cy="456.88" r="2.4"/><circle cx="568.58" cy="457.03" r="2.4"/><circle cx="569.69" cy="457.17" r="2.4"/><circle cx="570.80" cy="457.31" r="2.4"/><circle cx="571.91" cy="457.45" r="2.4"/><circle cx="573.02" cy="457.58" r="2.4"/><circle cx="574.12" cy="457.72" r="2.4"/><circle cx="575.22" cy="457.85" r="2.4"/><circle cx="576.32" cy="457.98" r="2.4"/><circle cx="577.41" cy="458.11" r="2.4"/><circle cx="578.50" cy="458.24" r="2.4"/><circle cx="579.59" cy="458.37" r="2.4"/><circle cx="580.68" cy="458.50" r="2.4"/><circle cx="581.77" cy="458.62" r="2.4"/><circle cx="582.85" cy="458.74" r="2.4"/><circle cx="583.93" cy="458.87" r="2.4"/><circle cx="585.01" cy="458.99" r="2.4"/><circle cx="586.09" cy="459.11" r="2.4"/><circle cx="587.16" cy="459.22" r="2.4"/><circle cx="588.24" cy="459.34" r="2.4"/><circle cx="589.31" cy="459.46" r="2.4"/><circle cx="590.37" cy="459.57" r="2.4"/><circle cx="591.44" cy="459.68" r="2.4"/><circle cx="592.50" cy="459.80" r="2.4"/><circle cx="593.56" cy="459.91" r="2.4"/><circle cx="594.62" cy="460.02" r="2.4"/><circle cx="595.68" cy="460.13" r="2.4"/><circle cx="596.73" cy="460.23" r="2.4"/><circle cx="597.79" cy="460.34" r="2.4"/><circle cx="598.84" cy="460.45" r="2.4"/><circle cx="599.89" cy="460.55" r="2.4"/><circle cx="600.93" cy="460.65" r="2.4"/><circle cx="601.98" cy="460.76" r="2.4"/><circle cx="603.02" cy="460.86" r="2.4"/><circle cx="604.06" cy="460.96" r="2.4"/><circle cx="605.10" cy="461.06" r="2.4"/><circle cx="606.13" cy="461.15" r="2.4"/><circle cx="607.17" cy="461.25" r="2.4"/><circle cx="608.20" cy="461.35" r="2.4"/><circle cx="609.23" cy="461.44" r="2.4"/><circle cx="610.26" cy="461.54" r="2.4"/><circle cx="611.28" cy="461.63" r="2.4"/><circle cx="612.31" cy="461.73" r="2.4"/><circle cx="613.33" cy="461.82" r="2.4"/><circle cx="614.35" cy="461.91" r="2.4"/><circle cx="615.37" cy="462.00" r="2.4"/><circle cx="616.39" cy="462.09" r="2.4"/><circle cx="617.40" cy="462.18" r="2.4"/><circle cx="618.41" cy="462.27" r="2.4"/><circle cx="619.42" cy="462.35" r="2.4"/><circle cx="620.43" cy="462.44" r="2.4"/><circle cx="621.44" cy="462.53" r="2.4"/><circle cx="622.45" cy="462.61" r="2.4"/><circle cx="623.45" cy="462.70" r="2.4"/><circle cx="624.45" cy="462.78" r="2.4"/><circle cx="625.45" cy="462.86" r="2.4"/><circle cx="626.45" cy="462.95" r="2.4"/><circle cx="627.45" cy="463.03" r="2.4"/><circle cx="628.44" cy="463.11" r="2.4"/><circle cx="629.43" cy="463.19" r="2.4"/><circle cx="630.42" cy="463.27" r="2.4"/><circle cx="631.41" cy="463.35" r="2.4"/><circle cx="632.40" cy="463.43" r="2.4"/><circle cx="633.39" cy="463.50" r="2.4"/><circle cx="634.37" cy="463.58" r="2.4"/><circle cx="635.35" cy="463.66" r="2.4"/><circle cx="636.33" cy="463.73" r="2.4"/><circle cx="637.31" cy="463.81" r="2.4"/><circle cx="638.29" cy="463.88" r="2.4"/><circle cx="639.26" cy="463.96" r="2.4"/><circle cx="640.24" cy="464.03" r="2.4"/><circle cx="641.21" cy="464.10" r="2.4"/><circle cx="642.18" cy="464.18" r="2.4"/><circle cx="643.15" cy="464.25" r="2.4"/><circle cx="644.12" cy="464.32" r="2.4"/><circle cx="645.08" cy="464.39" r="2.4"/><circle cx="646.05" cy="464.46" r="2.4"/><circle cx="647.01" cy="464.53" r="2.4"/><circle cx="647.97" cy="464.60" r="2.4"/><circle cx="648.93" cy="464.67" r="2.4"/><circle cx="649.89" cy="464.74" r="2.4"/><circle cx="650.84" cy="464.81" r="2.4"/><circle cx="651.80" cy="464.88" r="2.4"/><circle cx="652.75" cy="464.94" r="2.4"/><circle cx="653.70" cy="465.01" r="2.4"/><circle cx="654.65" cy="465.08" r="2.4"/><circle cx="655.60" cy="465.14" r="2.4"/><circle cx="656.55" cy="465.21" r="2.4"/><circle cx="657.49" cy="465.27" r="2.4"/><circle cx="658.43" cy="465.34" r="2.4"/><circle cx="659.38" cy="465.40" r="2.4"/><circle cx="660.32" cy="465.47" r="2.4"/><circle cx="661.26" cy="465.53" r="2.4"/><circle cx="662.19" cy="465.59" r="2.4"/><circle cx="663.13" cy="465.66" r="2.4"/><circle cx="664.06" cy="465.72" r="2.4"/><circle cx="665.00" cy="465.78" r="2.4"/><circle cx="665.93" cy="465.84" r="2.4"/><circle cx="666.86" cy="465.91" r="2.4"/><circle cx="667.79" cy="465.97" r="2.4"/><circle cx="668.72" cy="466.03" r="2.4"/><circle cx="669.64" cy="466.09" r="2.4"/><circle cx="670.57" cy="466.15" r="2.4"/><circle cx="671.49" cy="466.21" r="2.4"/><circle cx="672.41" cy="466.27" r="2.4"/><circle cx="673.33" cy="466.33" r="2.4"/><circle cx="674.25" cy="466.39" r="2.4"/><circle cx="675.17" cy="466.44" r="2.4"/><circle cx="676.08" cy="466.50" r="2.4"/><circle cx="677.00" cy="466.56" r="2.4"/><circle cx="677.91" cy="466.62" r="2.4"/><circle cx="678.82" cy="466.68" r="2.4"/><circle cx="679.73" cy="466.73" r="2.4"/><circle cx="680.64" cy="466.79" r="2.4"/><circle cx="681.55" cy="466.85" r="2.4"/><circle cx="682.46" cy="466.90" r="2.4"/><circle cx="683.36" cy="466.96" r="2.4"/><circle cx="684.26" cy="467.02" r="2.4"/><circle cx="685.17" cy="467.07" r="2.4"/><circle cx="686.07" cy="467.13" r="2.4"/><circle cx="686.97" cy="467.18" r="2.4"/><circle cx="687.87" cy="467.24" r="2.4"/><circle cx="688.76" cy="467.29" r="2.4"/><circle cx="689.66" cy="467.35" r="2.4"/><circle cx="690.55" cy="467.40" r="2.4"/><circle cx="691.45" cy="467.46" r="2.4"/><circle cx="692.34" cy="467.51" r="2.4"/><circle cx="693.23" cy="467.57" r="2.4"/><circle cx="694.12" cy="467.62" r="2.4"/><circle cx="695.01" cy="467.67" r="2.4"/><circle cx="695.89" cy="467.73" r="2.4"/><circle cx="696.78" cy="467.78" r="2.4"/><circle cx="697.66" cy="467.83" r="2.4"/><circle cx="698.55" cy="467.88" r="2.4"/><circle cx="699.43" cy="467.94" r="2.4"/><circle cx="700.31" cy="467.99" r="2.4"/><circle cx="701.19" cy="468.04" r="2.4"/><circle cx="702.07" cy="468.09" r="2.4"/><circle cx="702.94" cy="468.15" r="2.4"/><circle cx="703.82" cy="468.20" r="2.4"/><circle cx="704.69" cy="468.25" r="2.4"/></g>
<path d="M98.34,147.29 L109.25,131.05 L117.62,117.16 L124.68,104.56 L130.90,97.93 L136.52,93.12 L141.69,89.81 L146.50,88.00 L151.02,87.14 L155.29,87.46 L159.36,88.85 L163.24,91.10 L166.97,93.66 L170.55,96.54 L174.01,99.96 L177.36,103.49 L180.60,107.44 L183.75,111.71 L186.81,115.77 L189.79,120.37 L192.70,125.39 L195.54,129.87 L198.32,134.90 L201.03,139.60 L203.69,144.62 L206.30,149.32 L208.86,154.34 L211.37,158.93 L213.84,163.69 L216.26,168.41 L218.65,173.12 L221.00,177.83 L223.31,182.51 L225.58,187.15 L227.82,191.75 L230.03,196.29 L232.21,200.78 L234.36,205.19 L236.49,209.53 L238.58,213.79 L240.65,217.97 L242.70,222.06 L244.72,226.05 L246.71,229.96 L248.69,233.77 L250.64,237.48 L252.57,241.09 L254.48,244.62 L256.37,248.08 L258.24,251.47 L260.10,254.80 L261.93,258.06 L263.75,261.26 L265.55,264.41 L267.33,267.49 L269.10,270.51 L270.85,273.48 L272.59,276.40 L274.31,279.25 L276.02,282.06 L277.71,284.82 L279.39,287.52 L281.06,290.18 L282.71,292.79 L284.35,295.36 L285.98,297.88 L287.59,300.36 L289.20,302.79 L290.79,305.19 L292.37,307.54 L293.94,309.86 L295.49,312.14 L297.04,314.38 L298.58,316.58 L300.10,318.75 L301.62,320.88 L303.12,322.97 L304.62,325.03 L306.11,327.06 L307.58,329.05 L309.05,331.00 L310.51,332.92 L311.96,334.81 L313.40,336.66 L314.83,338.49 L316.26,340.27 L317.67,342.03 L319.08,343.76 L320.48,345.45 L321.87,347.11 L323.26,348.75 L324.63,350.35 L326.00,351.93 L327.37,353.47 L328.72,354.99 L330.07,356.47 L331.41,357.93 L332.74,359.36 L334.07,360.77 L335.39,362.14 L336.70,363.49 L338.01,364.82 L339.31,366.12 L340.61,367.39 L341.89,368.64 L343.18,369.86 L344.45,371.06 L345.72,372.23 L346.99,373.38 L348.25,374.50 L349.50,375.61 L350.75,376.69 L351.99,377.74 L353.22,378.77 L354.45,379.79 L355.68,380.77 L356.90,381.74 L358.11,382.69 L359.32,383.62 L360.53,384.52 L361.73,385.41 L362.92,386.28 L364.11,387.14 L365.30,387.97 L366.48,388.79 L367.65,389.60 L368.82,390.39 L369.99,391.16 L371.15,391.92 L372.31,392.67 L373.46,393.40 L374.61,394.12 L375.76,394.83 L376.90,395.52 L378.03,396.21 L379.16,396.88 L380.29,397.54 L381.41,398.19 L382.53,398.83 L383.65,399.46 L384.76,400.09 L385.86,400.70 L386.97,401.30 L388.07,401.90 L389.16,402.49 L390.25,403.07 L391.34,403.64 L392.43,404.21 L393.51,404.77 L394.58,405.32 L395.66,405.86 L396.73,406.40 L397.79,406.94 L398.86,407.47 L399.92,407.99 L400.97,408.51 L402.03,409.02 L403.08,409.53 L404.12,410.03 L405.16,410.53 L406.20,411.03 L407.24,411.52 L408.27,412.01 L409.30,412.49 L410.33,412.98 L411.35,413.45 L412.37,413.93 L413.39,414.40 L414.41,414.87 L415.42,415.33 L416.43,415.80 L417.43,416.25 L418.43,416.71 L419.43,417.16 L420.43,417.61 L421.43,418.06 L422.42,418.50 L423.41,418.94 L424.39,419.37 L425.37,419.80 L426.35,420.23 L427.33,420.66 L428.31,421.08 L429.28,421.50 L430.25,421.91 L431.22,422.33 L432.18,422.73 L433.14,423.14 L434.10,423.54 L435.06,423.94 L436.01,424.34 L436.96,424.73 L437.91,425.12 L438.86,425.50 L439.80,425.89 L440.75,426.26 L441.68,426.64 L442.62,427.01 L443.56,427.38 L444.49,427.75 L445.42,428.11 L446.35,428.47 L447.27,428.83 L448.20,429.18 L449.12,429.53 L450.04,429.87 L450.95,430.22 L451.87,430.56 L452.78,430.89 L453.69,431.23 L454.60,431.56 L455.50,431.88 L456.40,432.21 L457.31,432.53 L458.20,432.85 L459.10,433.16 L460.00,433.47 L460.89,433.78 L461.78,434.08 L462.67,434.38 L463.56,434.68 L464.44,434.98 L465.32,435.27 L466.21,435.56 L467.08,435.84 L467.96,436.12 L468.84,436.40 L469.71,436.68 L470.58,436.95 L471.45,437.22 L472.32,437.49 L473.18,437.76 L474.05,438.02 L474.91,438.28 L475.77,438.54 L476.63,438.79 L477.48,439.04 L478.34,439.29 L479.19,439.54 L480.04,439.78 L480.89,440.02 L481.74,440.26 L482.58,440.50 L483.43,440.73 L484.27,440.97 L485.11,441.20 L485.95,441.42 L486.79,441.65 L487.62,441.87 L488.46,442.09 L489.29,442.31 L490.12,442.53 L490.95,442.74 L491.77,442.95 L492.60,443.16 L493.42,443.37 L494.25,443.58 L495.07,443.78 L495.89,443.99 L496.70,444.19 L497.52,444.38 L498.33,444.58 L499.15,444.77 L499.96,444.97 L500.77,445.16 L501.58,445.35 L502.38,445.54 L503.19,445.72 L503.99,445.90 L504.79,446.09 L505.59,446.27 L506.39,446.45 L507.19,446.62 L507.99,446.80 L508.78,446.97 L509.58,447.15 L510.37,447.32 L511.16,447.49 L511.95,447.65 L512.73,447.82 L513.52,447.98 L514.31,448.15 L515.09,448.31 L515.87,448.47 L516.65,448.63 L517.43,448.78 L518.21,448.94 L518.99,449.10 L519.76,449.25 L520.54,449.40 L521.31,449.55 L522.08,449.70 L522.85,449.85 L523.62,449.99 L524.39,450.14 L525.15,450.28 L525.92,450.43 L526.68,450.57 L527.44,450.71 L528.20,450.85 L528.96,450.99 L529.72,451.12 L530.48,451.26 L531.24,451.39 L531.99,451.53 L532.74,451.66 L533.50,451.79 L534.25,451.92 L535.00,452.05 L535.75,452.18 L536.49,452.30 L537.24,452.43 L537.98,452.55 L538.73,452.68 L539.47,452.80 L540.21,452.92 L540.95,453.04 L541.69,453.16 L542.43,453.28 L543.17,453.40 L543.90,453.52 L544.64,453.63 L545.37,453.75 L546.10,453.86 L546.83,453.97 L547.56,454.09 L548.29,454.20 L549.02,454.31 L549.75,454.42 L550.47,454.53 L551.20,454.63 L551.92,454.74 L552.64,454.85 L553.36,454.95 L554.08,455.06 L554.80,455.16 L555.52,455.26 L556.24,455.36 L556.95,455.47 L557.67,455.57 L558.38,455.67 L559.09,455.76 L559.80,455.86 L560.51,455.96 L561.22,456.06 L561.93,456.15 L562.64,456.25 L563.35,456.34 L564.05,456.44 L564.76,456.53 L565.46,456.62 L566.16,456.71 L566.86,456.81 L567.56,456.90 L568.26,456.99 L568.96,457.07 L569.66,457.16 L570.36,457.25 L571.05,457.34 L571.75,457.42 L572.44,457.51 L573.13,457.60 L573.82,457.68 L574.52,457.76 L575.20,457.85 L575.89,457.93 L576.58,458.01 L577.27,458.10 L577.95,458.18 L578.64,458.26 L579.32,458.34 L580.01,458.42 L580.69,458.50 L581.37,458.57 L582.05,458.65 L582.73,458.73 L583.41,458.81 L584.09,458.88 L584.76,458.96 L585.44,459.03 L586.12,459.11 L586.79,459.18 L587.46,459.26 L588.14,459.33 L588.81,459.40 L589.48,459.47 L590.15,459.55 L590.82,459.62 L591.49,459.69 L592.15,459.76 L592.82,459.83 L593.48,459.90 L594.15,459.97 L594.81,460.04 L595.48,460.10 L596.14,460.17 L596.80,460.24 L597.46,460.31 L598.12,460.37 L598.78,460.44 L599.44,460.51 L600.09,460.57 L600.75,460.64 L601.41,460.70 L602.06,460.76 L602.72,460.83 L603.37,460.89 L604.02,460.95 L604.67,461.02 L605.32,461.08 L605.97,461.14 L606.62,461.20 L607.27,461.26 L607.92,461.32 L608.57,461.38 L609.21,461.44 L609.86,461.50 L610.50,461.56 L611.14,461.62 L611.79,461.68 L612.43,461.74 L613.07,461.80 L613.71,461.85 L614.35,461.91 L614.99,461.97 L615.63,462.02 L616.27,462.08 L616.90,462.14 L617.54,462.19 L618.18,462.25 L618.81,462.30 L619.44,462.36 L620.08,462.41 L620.71,462.47 L621.34,462.52 L621.97,462.57 L622.60,462.63 L623.23,462.68 L623.86,462.73 L624.49,462.78 L625.12,462.84 L625.74,462.89 L626.37,462.94 L627.00,462.99 L627.62,463.04 L628.24,463.09 L628.87,463.14 L629.49,463.19 L630.11,463.24 L630.73,463.29 L631.35,463.34 L631.97,463.39 L632.59,463.44 L633.21,463.49 L633.83,463.54 L634.45,463.59 L635.06,463.63 L635.68,463.68 L636.29,463.73 L636.91,463.78 L637.52,463.82 L638.13,463.87 L638.75,463.92 L639.36,463.96 L639.97,464.01 L640.58,464.06 L641.19,464.10 L641.80,464.15 L642.41,464.19 L643.01,464.24 L643.62,464.28 L644.23,464.33 L644.83,464.37 L645.44,464.42 L646.04,464.46 L646.65,464.51 L647.25,464.55 L647.85,464.59 L648.46,464.64 L649.06,464.68 L649.66,464.72 L650.26,464.77 L650.86,464.81 L651.46,464.85 L652.06,464.89 L652.65,464.94 L653.25,464.98 L653.85,465.02 L654.44,465.06 L655.04,465.10 L655.63,465.15 L656.23,465.19 L656.82,465.23 L657.41,465.27 L658.00,465.31 L658.60,465.35 L659.19,465.39 L659.78,465.43 L660.37,465.47 L660.96,465.51 L661.55,465.55 L662.13,465.59 L662.72,465.63 L663.31,465.67 L663.89,465.71 L664.48,465.75 L665.07,465.79 L665.65,465.83 L666.23,465.86 L666.82,465.90 L667.40,465.94 L667.98,465.98 L668.56,466.02 L669.15,466.06 L669.73,466.09 L670.31,466.13 L670.89,466.17 L671.46,466.21 L672.04,466.24 L672.62,466.28 L673.20,466.32 L673.77,466.36 L674.35,466.39 L674.93,466.43 L675.50,466.47 L676.08,466.50 L676.65,466.54 L677.22,466.58 L677.80,466.61 L678.37,466.65 L678.94,466.68 L679.51,466.72 L680.08,466.76 L680.65,466.79 L681.22,466.83 L681.79,466.86 L682.36,466.90 L682.93,466.93 L683.49,466.97 L684.06,467.00 L684.63,467.04 L685.19,467.07 L685.76,467.11 L686.32,467.14 L686.89,467.18 L687.45,467.21 L688.02,467.25 L688.58,467.28 L689.14,467.32 L689.70,467.35 L690.26,467.39 L690.83,467.42 L691.39,467.45 L691.95,467.49 L692.50,467.52 L693.06,467.56 L693.62,467.59 L694.18,467.62 L694.74,467.66 L695.29,467.69 L695.85,467.72 L696.41,467.76 L696.96,467.79 L697.52,467.82 L698.07,467.86 L698.62,467.89 L699.18,467.92 L699.73,467.96 L700.28,467.99 L700.83,468.02 L701.39,468.05 L701.94,468.09 L702.49,468.12 L703.04,468.15 L703.59,468.18 L704.13,468.22 L704.68,468.25" fill="none" stroke="#000000" stroke-width="1.3"/>
<g fill="#000000"><circle cx="98.34" cy="147.29" r="2.4"/><circle cx="109.25" cy="131.05" r="2.4"/><circle cx="117.62" cy="117.16" r="2.4"/><circle cx="124.68" cy="104.56" r="2.4"/><circle cx="130.90" cy="97.93" r="2.4"/><circle cx="136.52" cy="93.12" r="2.4"/><circle cx="141.69" cy="89.81" r="2.4"/><circle cx="146.50" cy="88.00" r="2.4"/><circle cx="151.02" cy="87.14" r="2.4"/><circle cx="155.29" cy="87.46" r="2.4"/><circle cx="159.36" cy="88.85" r="2.4"/><circle cx="163.24" cy="91.10" r="2.4"/><circle cx="166.97" cy="93.66" r="2.4"/><circle cx="170.55" cy="96.54" r="2.4"/><circle cx="174.01" cy="99.96" r="2.4"/><circle cx="177.36" cy="103.49" r="2.4"/><circle cx="180.60" cy="107.44" r="2.4"/><circle cx="183.75" cy="111.71" r="2.4"/><circle cx="186.81" cy="115.77" r="2.4"/><circle cx="189.79" cy="120.37" r="2.4"/><circle cx="192.70" cy="125.39" r="2.4"/><circle cx="195.54" cy="129.87" r="2.4"/><circle cx="198.32" cy="134.90" r="2.4"/><circle cx="201.03" cy="139.60" r="2.4"/><circle cx="203.69" cy="144.62" r="2.4"/><circle cx="206.30" cy="149.32" r="2.4"/><circle cx="208.86" cy="154.34" r="2.4"/><circle cx="211.37" cy="158.93" r="2.4"/><circle cx="213.84" cy="163.69" r="2.4"/><circle cx="216.26" cy="168.41" r="2.4"/><circle cx="218.65" cy="173.12" r="2.4"/><circle cx="221.00" cy="177.83" r="2.4"/><circle cx="223.31" cy="182.51" r="2.4"/><circle cx="225.58" cy="187.15" r="2.4"/><circle cx="227.82" cy="191.75" r="2.4"/><circle cx="230.03" cy="196.29" r="2.4"/><circle cx="232.21" cy="200.78" r="2.4"/><circle cx="234.36" cy="205.19" r="2.4"/><circle cx="236.49" cy="209.53" r="2.4"/><circle cx="238.58" cy="213.79" r="2.4"/><circle cx="240.65" cy="217.97" r="2.4"/><circle cx="242.70" cy="222.06" r="2.4"/><circle cx="244.72" cy="226.05" r="2.4"/><circle cx="246.71" cy="229.96" r="2.4"/><circle cx="248.69" cy="233.77" r="2.4"/><circle cx="250.64" cy="237.48" r="2.4"/><circle cx="252.57" cy="241.09" r="2.4"/><circle cx="254.48" cy="244.62" r="2.4"/><circle cx="256.37" cy="248.08" r="2.4"/><circle cx="258.24" cy="251.47" r="2.4"/><circle cx="260.10" cy="254.80" r="2.4"/><circle cx="261.93" cy="258.06" r="2.4"/><circle cx="263.75" cy="261.26" r="2.4"/><circle cx="265.55" cy="264.41" r="2.4"/><circle cx="267.33" cy="267.49" r="2.4"/><circle cx="269.10" cy="270.51" r="2.4"/><circle cx="270.85" cy="273.48" r="2.4"/><circle cx="272.59" cy="276.40" r="2.4"/><circle cx="274.31" cy="279.25" r="2.4"/><circle cx="276.02" cy="282.06" r="2.4"/><circle cx="277.71" cy="284.82" r="2.4"/><circle cx="279.39" cy="287.52" r="2.4"/><circle cx="281.06" cy="290.18" r="2.4"/><circle cx="282.71" cy="292.79" r="2.4"/><circle cx="284.35" cy="295.36" r="2.4"/><circle cx="285.98" cy="297.88" r="2.4"/><circle cx="287.59" cy="300.36" r="2.4"/><circle cx="289.20" cy="302.79" r="2.4"/><circle cx="290.79" cy="305.19" r="2.4"/><circle cx="292.37" cy="307.54" r="2.4"/><circle cx="293.94" cy="309.86" r="2.4"/><circle cx="295.49" cy="312.14" r="2.4"/><circle cx="297.04" cy="314.38" r="2.4"/><circle cx="298.58" cy="316.58" r="2.4"/><circle cx="300.10" cy="318.75" r="2.4"/><circle cx="301.62" cy="320.88" r="2.4"/><circle cx="303.12" cy="322.97" r="2.4"/><circle cx="304.62" cy="325.03" r="2.4"/><circle cx="306.11" cy="327.06" r="2.4"/><circle cx="307.58" cy="329.05" r="2.4"/><circle cx="309.05" cy="331.00" r="2.4"/><circle cx="310.51" cy="332.92" r="2.4"/><circle cx="311.96" cy="334.81" r="2.4"/><circle cx="313.40" cy="336.66" r="2.4"/><circle cx="314.83" cy="338.49" r="2.4"/><circle cx="316.26" cy="340.27" r="2.4"/><circle cx="317.67" cy="342.03" r="2.4"/><circle cx="319.08" cy="343.76" r="2.4"/><circle cx="320.48" cy="345.45" r="2.4"/><circle cx="321.87" cy="347.11" r="2.4"/><circle cx="323.26" cy="348.75" r="2.4"/><circle cx="324.63" cy="350.35" r="2.4"/><circle cx="326.00" cy="351.93" r="2.4"/><circle cx="327.37" cy="353.47" r="2.4"/><circle cx="328.72" cy="354.99" r="2.4"/><circle cx="330.07" cy="356.47" r="2.4"/><circle cx="331.41" cy="357.93" r="2.4"/><circle cx="332.74" cy="359.36" r="2.4"/><circle cx="334.07" cy="360.77" r="2.4"/><circle cx="335.39" cy="362.14" r="2.4"/><circle cx="336.70" cy="363.49" r="2.4"/><circle cx="338.01" cy="364.82" r="2.4"/><circle cx="339.31" cy="366.12" r="2.4"/><circle cx="340.61" cy="367.39" r="2.4"/><circle cx="341.89" cy="368.64" r="2.4"/><circle cx="343.18" cy="369.86" r="2.4"/><circle cx="344.45" cy="371.06" r="2.4"/><circle cx="345.72" cy="372.23" r="2.4"/><circle cx="346.99" cy="373.38" r="2.4"/><circle cx="348.25" cy="374.50" r="2.4"/><circle cx="349.50" cy="375.61" r="2.4"/><circle cx="350.75" cy="376.69" r="2.4"/><circle cx="351.99" cy="377.74" r="2.4"/><circle cx="353.22" cy="378.77" r="2.4"/><circle cx="354.45" cy="379.79" r="2.4"/><circle cx="355.68" cy="380.77" r="2.4"/><circle cx="356.90" cy="381.74" r="2.4"/><circle cx="358.11" cy="382.69" r="2.4"/><circle cx="359.32" cy="383.62" r="2.4"/><circle cx="360.53" cy="384.52" r="2.4"/><circle cx="361.73" cy="385.41" r="2.4"/><circle cx="362.92" cy="386.28" r="2.4"/><circle cx="364.11" cy="387.14" r="2.4"/><circle cx="365.30" cy="387.97" r="2.4"/><circle cx="366.48" cy="388.79" r="2.4"/><circle cx="367.65" cy="389.60" r="2.4"/><circle cx="368.82" cy="390.39" r="2.4"/><circle cx="369.99" cy="391.16" r="2.4"/><circle cx="371.15" cy="391.92" r="2.4"/><circle cx="372.31" cy="392.67" r="2.4"/><circle cx="373.46" cy="393.40" r="2.4"/><circle cx="374.61" cy="394.12" r="2.4"/><circle cx="375.76" cy="394.83" r="2.4"/><circle cx="376.90" cy="395.52" r="2.4"/><circle cx="378.03" cy="396.21" r="2.4"/><circle cx="379.16" cy="396.88" r="2.4"/><circle cx="380.29" cy="397.54" r="2.4"/><circle cx="381.41" cy="398.19" r="2.4"/><circle cx="382.53" cy="398.83" r="2.4"/><circle cx="383.65" cy="399.46" r="2.4"/><circle cx="384.76" cy="400.09" r="2.4"/><circle cx="385.86" cy="400.70" r="2.4"/><circle cx="386.97" cy="401.30" r="2.4"/><circle cx="388.07" cy="401.90" r="2.4"/><circle cx="389.16" cy="402.49" r="2.4"/><circle cx="390.25" cy="403.07" r="2.4"/><circle cx="391.34" cy="403.64" r="2.4"/><circle cx="392.43" cy="404.21" r="2.4"/><circle cx="393.51" cy="404.77" r="2.4"/><circle cx="394.58" cy="405.32" r="2.4"/><circle cx="395.66" cy="405.86" r="2.4"/><circle cx="396.73" cy="406.40" r="2.4"/><circle cx="397.79" cy="406.94" r="2.4"/><circle cx="398.86" cy="407.47" r="2.4"/><circle cx="399.92" cy="407.99" r="2.4"/><circle cx="400.97" cy="408.51" r="2.4"/><circle cx="402.03" cy="409.02" r="2.4"/><circle cx="403.08" cy="409.53" r="2.4"/><circle cx="404.12" cy="410.03" r="2.4"/><circle cx="405.16" cy="410.53" r="2.4"/><circle cx="406.20" cy="411.03" r="2.4"/><circle cx="407.24" cy="411.52" r="2.4"/><circle cx="408.27" cy="412.01" r="2.4"/><circle cx="409.30" cy="412.49" r="2.4"/><circle cx="410.33" cy="412.98" r="2.4"/><circle cx="411.35" cy="413.45" r="2.4"/><circle cx="412.37" cy="413.93" r="2.4"/><circle cx="413.39" cy="414.40" r="2.4"/><circle cx="414.41" cy="414.87" r="2.4"/><circle cx="415.42" cy="415.33" r="2.4"/><circle cx="416.43" cy="415.80" r="2.4"/><circle cx="417.43" cy="416.25" r="2.4"/><circle cx="418.43" cy="416.71" r="2.4"/><circle cx="419.43" cy="417.16" r="2.4"/><circle cx="420.43" cy="417.61" r="2.4"/><circle cx="421.43" cy="418.06" r="2.4"/><circle cx="422.42" cy="418.50" r="2.4"/><circle cx="423.41" cy="418.94" r="2.4"/><circle cx="424.39" cy="419.37" r="2.4"/><circle cx="425.37" cy="419.80" r="2.4"/><circle cx="426.35" cy="420.23" r="2.4"/><circle cx="427.33" cy="420.66" r="2.4"/><circle cx="428.31" cy="421.08" r="2.4"/><circle cx="429.28" cy="421.50" r="2.4"/><circle cx="430.25" cy="421.91" r="2.4"/><circle cx="431.22" cy="422.33" r="2.4"/><circle cx="432.18" cy="422.73" r="2.4"/><circle cx="433.14" cy="423.14" r="2.4"/><circle cx="434.10" cy="423.54" r="2.4"/><circle cx="435.06" cy="423.94" r="2.4"/><circle cx="436.01" cy="424.34" r="2.4"/><circle cx="436.96" cy="424.73" r="2.4"/><circle cx="437.91" cy="425.12" r="2.4"/><circle cx="438.86" cy="425.50" r="2.4"/><circle cx="439.80" cy="425.89" r="2.4"/><circle cx="440.75" cy="426.26" r="2.4"/><circle cx="441.68" cy="426.64" r="2.4"/><circle cx="442.62" cy="427.01" r="2.4"/><circle cx="443.56" cy="427.38" r="2.4"/><circle cx="444.49" cy="427.75" r="2.4"/><circle cx="445.42" cy="428.11" r="2.4"/><circle cx="446.35" cy="428.47" r="2.4"/><circle cx="447.27" cy="428.83" r="2.4"/><circle cx="448.20" cy="429.18" r="2.4"/><circle cx="449.12" cy="429.53" r="2.4"/><circle cx="450.04" cy="429.87" r="2.4"/><circle cx="450.95" cy="430.22" r="2.4"/><circle cx="451.87" cy="430.56" r="2.4"/><circle cx="452.78" cy="430.89" r="2.4"/><circle cx="453.69" cy="431.23" r="2.4"/><circle cx="454.60" cy="431.56" r="2.4"/><circle cx="455.50" cy="431.88" r="2.4"/><circle cx="456.40" cy="432.21" r="2.4"/><circle cx="457.31" cy="432.53" r="2.4"/><circle cx="458.20" cy="432.85" r="2.4"/><circle cx="459.10" cy="433.16" r="2.4"/><circle cx="460.00" cy="433.47" r="2.4"/><circle cx="460.89" cy="433.78" r="2.4"/><circle cx="461.78" cy="434.08" r="2.4"/><circle cx="462.67" cy="434.38" r="2.4"/><circle cx="463.56" cy="434.68" r="2.4"/><circle cx="464.44" cy="434.98" r="2.4"/><circle cx="465.32" cy="435.27" r="2.4"/><circle cx="466.21" cy="435.56" r="2.4"/><circle cx="467.08" cy="435.84" r="2.4"/><circle cx="467.96" cy="436.12" r="2.4"/><circle cx="468.84" cy="436.40" r="2.4"/><circle cx="469.71" cy="436.68" r="2.4"/><circle cx="470.58" cy="436.95" r="2.4"/><circle cx="471.45" cy="437.22" r="2.4"/><circle cx="472.32" cy="437.49" r="2.4"/><circle cx="473.18" cy="437.76" r="2.4"/><circle cx="474.05" cy="438.02" r="2.4"/><circle cx="474.91" cy="438.28" r="2.4"/><circle cx="475.77" cy="438.54" r="2.4"/><circle cx="476.63" cy="438.79" r="2.4"/><circle cx="477.48" cy="439.04" r="2.4"/><circle cx="478.34" cy="439.29" r="2.4"/><circle cx="479.19" cy="439.54" r="2.4"/><circle cx="480.04" cy="439.78" r="2.4"/><circle cx="480.89" cy="440.02" r="2.4"/><circle cx="481.74" cy="440.26" r="2.4"/><circle cx="482.58" cy="440.50" r="2.4"/><circle cx="483.43" cy="440.73" r="2.4"/><circle cx="484.27" cy="440.97" r="2.4"/><circle cx="485.11" cy="441.20" r="2.4"/><circle cx="485.95" cy="441.42" r="2.4"/><circle cx="486.79" cy="441.65" r="2.4"/><circle cx="487.62" cy="441.87" r="2.4"/><circle cx="488.46" cy="442.09" r="2.4"/><circle cx="489.29" cy="442.31" r="2.4"/><circle cx="490.12" cy="442.53" r="2.4"/><circle cx="490.95" cy="442.74" r="2.4"/><circle cx="491.77" cy="442.95" r="2.4"/><circle cx="492.60" cy="443.16" r="2.4"/><circle cx="493.42" cy="443.37" r="2.4"/><circle cx="494.25" cy="443.58" r="2.4"/><circle cx="495.07" cy="443.78" r="2.4"/><circle cx="495.89" cy="443.99" r="2.4"/><circle cx="496.70" cy="444.19" r="2.4"/><circle cx="497.52" cy="444.38" r="2.4"/><circle cx="498.33" cy="444.58" r="2.4"/><circle cx="499.15" cy="444.77" r="2.4"/><circle cx="499.96" cy="444.97" r="2.4"/><circle cx="500.77" cy="445.16" r="2.4"/><circle cx="501.58" cy="445.35" r="2.4"/><circle cx="502.38" cy="445.54" r="2.4"/><circle cx="503.19" cy="445.72" r="2.4"/><circle cx="503.99" cy="445.90" r="2.4"/><circle cx="504.79" cy="446.09" r="2.4"/><circle cx="505.59" cy="446.27" r="2.4"/><circle cx="506.39" cy="446.45" r="2.4"/><circle cx="507.19" cy="446.62" r="2.4"/><circle cx="507.99" cy="446.80" r="2.4"/><circle cx="508.78" cy="446.97" r="2.4"/><circle cx="509.58" cy="447.15" r="2.4"/><circle cx="510.37" cy="447.32" r="2.4"/><circle cx="511.16" cy="447.49" r="2.4"/><circle cx="511.95" cy="447.65" r="2.4"/><circle cx="512.73" cy="447.82" r="2.4"/><circle cx="513.52" cy="447.98" r="2.4"/><circle cx="514.31" cy="448.15" r="2.4"/><circle cx="515.09" cy="448.31" r="2.4"/><circle cx="515.87" cy="448.47" r="2.4"/><circle cx="516.65" cy="448.63" r="2.4"/><circle cx="517.43" cy="448.78" r="2.4"/><circle cx="518.21" cy="448.94" r="2.4"/><circle cx="518.99" cy="449.10" r="2.4"/><circle cx="519.76" cy="449.25" r="2.4"/><circle cx="520.54" cy="449.40" r="2.4"/><circle cx="521.31" cy="449.55" r="2.4"/><circle cx="522.08" cy="449.70" r="2.4"/><circle cx="522.85" cy="449.85" r="2.4"/><circle cx="523.62" cy="449.99" r="2.4"/><circle cx="524.39" cy="450.14" r="2.4"/><circle cx="525.15" cy="450.28" r="2.4"/><circle cx="525.92" cy="450.43" r="2.4"/><circle cx="526.68" cy="450.57" r="2.4"/><circle cx="527.44" cy="450.71" r="2.4"/><circle cx="528.20" cy="450.85" r="2.4"/><circle cx="528.96" cy="450.99" r="2.4"/><circle cx="529.72" cy="451.12" r="2.4"/><circle cx="530.48" cy="451.26" r="2.4"/><circle cx="531.24" cy="451.39" r="2.4"/><circle cx="531.99" cy="451.53" r="2.4"/><circle cx="532.74" cy="451.66" r="2.4"/><circle cx="533.50" cy="451.79" r="2.4"/><circle cx="534.25" cy="451.92" r="2.4"/><circle cx="535.00" cy="452.05" r="2.4"/><circle cx="535.75" cy="452.18" r="2.4"/><circle cx="536.49" cy="452.30" r="2.4"/><circle cx="537.24" cy="452.43" r="2.4"/><circle cx="537.98" cy="452.55" r="2.4"/><circle cx="538.73" cy="452.68" r="2.4"/><circle cx="539.47" cy="452.80" r="2.4"/><circle cx="540.21" cy="452.92" r="2.4"/><circle cx="540.95" cy="453.04" r="2.4"/><circle cx="541.69" cy="453.16" r="2.4"/><circle cx="542.43" cy="453.28" r="2.4"/><circle cx="543.17" cy="453.40" r="2.4"/><circle cx="543.90" cy="453.52" r="2.4"/><circle cx="544.64" cy="453.63" r="2.4"/><circle cx="545.37" cy="453.75" r="2.4"/><circle cx="546.10" cy="453.86" r="2.4"/><circle cx="546.83" cy="453.97" r="2.4"/><circle cx="547.56" cy="454.09" r="2.4"/><circle cx="548.29" cy="454.20" r="2.4"/><circle cx="549.02" cy="454.31" r="2.4"/><circle cx="549.75" cy="454.42" r="2.4"/><circle cx="550.47" cy="454.53" r="2.4"/><circle cx="551.20" cy="454.63" r="2.4"/><circle cx="551.92" cy="454.74" r="2.4"/><circle cx="552.64" cy="454.85" r="2.4"/><circle cx="553.36" cy="454.95" r="2.4"/><circle cx="554.08" cy="455.06" r="2.4"/><circle cx="554.80" cy="455.16" r="2.4"/><circle cx="555.52" cy="455.26" r="2.4"/><circle cx="556.24" cy="455.36" r="2.4"/><circle cx="556.95" cy="455.47" r="2.4"/><circle cx="557.67" cy="455.57" r="2.4"/><circle cx="558.38" cy="455.67" r="2.4"/><circle cx="559.09" cy="455.76" r="2.4"/><circle cx="559.80" cy="455.86" r="2.4"/><circle cx="560.51" cy="455.96" r="2.4"/><circle cx="561.22" cy="456.06" r="2.4"/><circle cx="561.93" cy="456.15" r="2.4"/><circle cx="562.64" cy="456.25" r="2.4"/><circle cx="563.35" cy="456.34" r="2.4"/><circle cx="564.05" cy="456.44" r="2.4"/><circle cx="564.76" cy="456.53" r="2.4"/><circle cx="565.46" cy="456.62" r="2.4"/><circle cx="566.16" cy="456.71" r="2.4"/><circle cx="566.86" cy="456.81" r="2.4"/><circle cx="567.56" cy="456.90" r="2.4"/><circle cx="568.26" cy="456.99" r="2.4"/><circle cx="568.96" cy="457.07" r="2.4"/><circle cx="569.66" cy="457.16" r="2.4"/><circle cx="570.36" cy="457.25" r="2.4"/><circle cx="571.05" cy="457.34" r="2.4"/><circle cx="571.75" cy="457.42" r="2.4"/><circle cx="572.44" cy="457.51" r="2.4"/><circle cx="573.13" cy="457.60" r="2.4"/><circle cx="573.82" cy="457.68" r="2.4"/><circle cx="574.52" cy="457.76" r="2.4"/><circle cx="575.20" cy="457.85" r="2.4"/><circle cx="575.89" cy="457.93" r="2.4"/><circle cx="576.58" cy="458.01" r="2.4"/><circle cx="577.27" cy="458.10" r="2.4"/><circle cx="577.95" cy="458.18" r="2.4"/><circle cx="578.64" cy="458.26" r="2.4"/><circle cx="579.32" cy="458.34" r="2.4"/><circle cx="580.01" cy="458.42" r="2.4"/><circle cx="580.69" cy="458.50" r="2.4"/><circle cx="581.37" cy="458.57" r="2.4"/><circle cx="582.05" cy="458.65" r="2.4"/><circle cx="582.73" cy="458.73" r="2.4"/><circle cx="583.41" cy="458.81" r="2.4"/><circle cx="584.09" cy="458.88" r="2.4"/><circle cx="584.76" cy="458.96" r="2.4"/><circle cx="585.44" cy="459.03" r="2.4"/><circle cx="586.12" cy="459.11" r="2.4"/><circle cx="586.79" cy="459.18" r="2.4"/><circle cx="587.46" cy="459.26" r="2.4"/><circle cx="588.14" cy="459.33" r="2.4"/><circle cx="588.81" cy="459.40" r="2.4"/><circle cx="589.48" cy="459.47" r="2.4"/><circle cx="590.15" cy="459.55" r="2.4"/><circle cx="590.82" cy="459.62" r="2.4"/><circle cx="591.49" cy="459.69" r="2.4"/><circle cx="592.15" cy="459.76" r="2.4"/><circle cx="592.82" cy="459.83" r="2.4"/><circle cx="593.48" cy="459.90" r="2.4"/><circle cx="594.15" cy="459.97" r="2.4"/><circle cx="594.81" cy="460.04" r="2.4"/><circle cx="595.48" cy="460.10" r="2.4"/><circle cx="596.14" cy="460.17" r="2.4"/><circle cx="596.80" cy="460.24" r="2.4"/><circle cx="597.46" cy="460.31" r="2.4"/><circle cx="598.12" cy="460.37" r="2.4"/><circle cx="598.78" cy="460.44" r="2.4"/><circle cx="599.44" cy="460.51" r="2.4"/><circle cx="600.09" cy="460.57" r="2.4"/><circle cx="600.75" cy="460.64" r="2.4"/><circle cx="601.41" cy="460.70" r="2.4"/><circle cx="602.06" cy="460.76" r="2.4"/><circle cx="602.72" cy="460.83" r="2.4"/><circle cx="603.37" cy="460.89" r="2.4"/><circle cx="604.02" cy="460.95" r="2.4"/><circle cx="604.67" cy="461.02" r="2.4"/><circle cx="605.32" cy="461.08" r="2.4"/><circle cx="605.97" cy="461.14" r="2.4"/><circle cx="606.62" cy="461.20" r="2.4"/><circle cx="607.27" cy="461.26" r="2.4"/><circle cx="607.92" cy="461.32" r="2.4"/><circle cx="608.57" cy="461.38" r="2.4"/><circle cx="609.21" cy="461.44" r="2.4"/><circle cx="609.86" cy="461.50" r="2.4"/><circle cx="610.50" cy="461.56" r="2.4"/><circle cx="611.14" cy="461.62" r="2.4"/><circle cx="611.79" cy="461.68" r="2.4"/><circle cx="612.43" cy="461.74" r="2.4"/><circle cx="613.07" cy="461.80" r="2.4"/><circle cx="613.71" cy="461.85" r="2.4"/><circle cx="614.35" cy="461.91" r="2.4"/><circle cx="614.99" cy="461.97" r="2.4"/><circle cx="615.63" cy="462.02" r="2.4"/><circle cx="616.27" cy="462.08" r="2.4"/><circle cx="616.90" cy="462.14" r="2.4"/><circle cx="617.54" cy="462.19" r="2.4"/><circle cx="618.18" cy="462.25" r="2.4"/><circle cx="618.81" cy="462.30" r="2.4"/><circle cx="619.44" cy="462.36" r="2.4"/><circle cx="620.08" cy="462.41" r="2.4"/><circle cx="620.71" cy="462.47" r="2.4"/><circle cx="621.34" cy="462.52" r="2.4"/><circle cx="621.97" cy="462.57" r="2.4"/><circle cx="622.60" cy="462.63" r="2.4"/><circle cx="623.23" cy="462.68" r="2.4"/><circle cx="623.86" cy="462.73" r="2.4"/><circle cx="624.49" cy="462.78" r="2.4"/><circle cx="625.12" cy="462.84" r="2.4"/><circle cx="625.74" cy="462.89" r="2.4"/><circle cx="626.37" cy="462.94" r="2.4"/><circle cx="627.00" cy="462.99" r="2.4"/><circle cx="627.62" cy="463.04" r="2.4"/><circle cx="628.24" cy="463.09" r="2.4"/><circle cx="628.87" cy="463.14" r="2.4"/><circle cx="629.49" cy="463.19" r="2.4"/><circle cx="630.11" cy="463.24" r="2.4"/><circle cx="630.73" cy="463.29" r="2.4"/><circle cx="631.35" cy="463.34" r="2.4"/><circle cx="631.97" cy="463.39" r="2.4"/><circle cx="632.59" cy="463.44" r="2.4"/><circle cx="633.21" cy="463.49" r="2.4"/><circle cx="633.83" cy="463.54" r="2.4"/><circle cx="634.45" cy="463.59" r="2.4"/><circle cx="635.06" cy="463.63" r="2.4"/><circle cx="635.68" cy="463.68" r="2.4"/><circle cx="636.29" cy="463.73" r="2.4"/><circle cx="636.91" cy="463.78" r="2.4"/><circle cx="637.52" cy="463.82" r="2.4"/><circle cx="638.13" cy="463.87" r="2.4"/><circle cx="638.75" cy="463.92" r="2.4"/><circle cx="639.36" cy="463.96" r="2.4"/><circle cx="639.97" cy="464.01" r="2.4"/><circle cx="640.58" cy="464.06" r="2.4"/><circle cx="641.19" cy="464.10" r="2.4"/><circle cx="641.80" cy="464.15" r="2.4"/><circle cx="642.41" cy="464.19" r="2.4"/><circle cx="643.01" cy="464.24" r="2.4"/><circle cx="643.62" cy="464.28" r="2.4"/><circle cx="644.23" cy="464.33" r="2.4"/><circle cx="644.83" cy="464.37" r="2.4"/><circle cx="645.44" cy="464.42" r="2.4"/><circle cx="646.04" cy="464.46" r="2.4"/><circle cx="646.65" cy="464.51" r="2.4"/><circle cx="647.25" cy="464.55" r="2.4"/><circle cx="647.85" cy="464.59" r="2.4"/><circle cx="648.46" cy="464.64" r="2.4"/><circle cx="649.06" cy="464.68" r="2.4"/><circle cx="649.66" cy="464.72" r="2.4"/><circle cx="650.26" cy="464.77" r="2.4"/><circle cx="650.86" cy="464.81" r="2.4"/><circle cx="651.46" cy="464.85" r="2.4"/><circle cx="652.06" cy="464.89" r="2.4"/><circle cx="652.65" cy="464.94" r="2.4"/><circle cx="653.25" cy="464.98" r="2.4"/><circle cx="653.85" cy="465.02" r="2.4"/><circle cx="654.44" cy="465.06" r="2.4"/><circle cx="655.04" cy="465.10" r="2.4"/><circle cx="655.63" cy="465.15" r="2.4"/><circle cx="656.23" cy="465.19" r="2.4"/><circle cx="656.82" cy="465.23" r="2.4"/><circle cx="657.41" cy="465.27" r="2.4"/><circle cx="658.00" cy="465.31" r="2.4"/><circle cx="658.60" cy="465.35" r="2.4"/><circle cx="659.19" cy="465.39" r="2.4"/><circle cx="659.78" cy="465.43" r="2.4"/><circle cx="660.37" cy="465.47" r="2.4"/><circle cx="660.96" cy="465.51" r="2.4"/><circle cx="661.55" cy="465.55" r="2.4"/><circle cx="662.13" cy="465.59" r="2.4"/><circle cx="662.72" cy="465.63" r="2.4"/><circle cx="663.31" cy="465.67" r="2.4"/><circle cx="663.89" cy="465.71" r="2.4"/><circle cx="664.48" cy="465.75" r="2.4"/><circle cx="665.07" cy="465.79" r="2.4"/><circle cx="665.65" cy="465.83" r="2.4"/><circle cx="666.23" cy="465.86" r="2.4"/><circle cx="666.82" cy="465.90" r="2.4"/><circle cx="667.40" cy="465.94" r="2.4"/><circle cx="667.98" cy="465.98" r="2.4"/><circle cx="668.56" cy="466.02" r="2.4"/><circle cx="669.15" cy="466.06" r="2.4"/><circle cx="669.73" cy="466.09" r="2.4"/><circle cx="670.31" cy="466.13" r="2.4"/><circle cx="670.89" cy="466.17" r="2.4"/><circle cx="671.46" cy="466.21" r="2.4"/><circle cx="672.04" cy="466.24" r="2.4"/><circle cx="672.62" cy="466.28" r="2.4"/><circle cx="673.20" cy="466.32" r="2.4"/><circle cx="673.77" cy="466.36" r="2.4"/><circle cx="674.35" cy="466.39" r="2.4"/><circle cx="674.93" cy="466.43" r="2.4"/><circle cx="675.50" cy="466.47" r="2.4"/><circle cx="676.08" cy="466.50" r="2.4"/><circle cx="676.65" cy="466.54" r="2.4"/><circle cx="677.22" cy="466.58" r="2.4"/><circle cx="677.80" cy="466.61" r="2.4"/><circle cx="678.37" cy="466.65" r="2.4"/><circle cx="678.94" cy="466.68" r="2.4"/><circle cx="679.51" cy="466.72" r="2.4"/><circle cx="680.08" cy="466.76" r="2.4"/><circle cx="680.65" cy="466.79" r="2.4"/><circle cx="681.22" cy="466.83" r="2.4"/><circle cx="681.79" cy="466.86" r="2.4"/><circle cx="682.36" cy="466.90" r="2.4"/><circle cx="682.93" cy="466.93" r="2.4"/><circle cx="683.49" cy="466.97" r="2.4"/><circle cx="684.06" cy="467.00" r="2.4"/><circle cx="684.63" cy="467.04" r="2.4"/><circle cx="685.19" cy="467.07" r="2.4"/><circle cx="685.76" cy="467.11" r="2.4"/><circle cx="686.32" cy="467.14" r="2.4"/><circle cx="686.89" cy="467.18" r="2.4"/><circle cx="687.45" cy="467.21" r="2.4"/><circle cx="688.02" cy="467.25" r="2.4"/><circle cx="688.58" cy="467.28" r="2.4"/><circle cx="689.14" cy="467.32" r="2.4"/><circle cx="689.70" cy="467.35" r="2.4"/><circle cx="690.26" cy="467.39" r="2.4"/><circle cx="690.83" cy="467.42" r="2.4"/><circle cx="691.39" cy="467.45" r="2.4"/><circle cx="691.95" cy="467.49" r="2.4"/><circle cx="692.50" cy="467.52" r="2.4"/><circle cx="693.06" cy="467.56" r="2.4"/><circle cx="693.62" cy="467.59" r="2.4"/><circle cx="694.18" cy="467.62" r="2.4"/><circle cx="694.74" cy="467.66" r="2.4"/><circle cx="695.29" cy="467.69" r="2.4"/><circle cx="695.85" cy="467.72" r="2.4"/><circle cx="696.41" cy="467.76" r="2.4"/><circle cx="696.96" cy="467.79" r="2.4"/><circle cx="697.52" cy="467.82" r="2.4"/><circle cx="698.07" cy="467.86" r="2.4"/><circle cx="698.62" cy="467.89" r="2.4"/><circle cx="699.18" cy="467.92" r="2.4"/><circle cx="699.73" cy="467.96" r="2.4"/><circle cx="700.28" cy="467.99" r="2.4"/><circle cx="700.83" cy="468.02" r="2.4"/><circle cx="701.39" cy="468.05" r="2.4"/><circle cx="701.94" cy="468.09" r="2.4"/><circle cx="702.49" cy="468.12" r="2.4"/><circle cx="703.04" cy="468.15" r="2.4"/><circle cx="703.59" cy="468.18" r="2.4"/><circle cx="704.13" cy="468.22" r="2.4"/><circle cx="704.68" cy="468.25" r="2.4"/></g>
<path d="M72.14,427.38 L72.17,423.84 L72.20,420.39 L72.23,417.02 L72.27,413.72 L72.30,410.49 L72.34,407.31 L72.38,404.19 L72.43,401.12 L72.47,398.10 L72.52,395.13 L72.57,392.19 L72.62,389.30 L72.68,386.44 L72.73,383.62 L72.79,380.83 L72.86,378.07 L72.92,375.35 L72.99,372.65 L73.06,369.98 L73.13,367.34 L73.20,364.72 L73.28,362.13 L73.36,359.56 L73.44,357.01 L73.52,354.49 L73.61,351.99 L73.69,349.50 L73.78,347.04 L73.88,344.59 L73.97,342.16 L74.07,339.75 L74.17,337.36 L74.27,334.99 L74.37,332.63 L74.48,330.28 L74.59,327.95 L74.70,325.64 L74.81,323.34 L74.93,321.05 L75.05,318.78 L75.17,316.52 L75.29,314.27 L75.42,312.04 L75.54,309.82 L75.67,307.61 L75.81,305.41 L75.94,303.23 L76.08,301.83 L76.22,301.26 L76.36,300.50 L76.50,299.57 L76.65,298.47 L76.80,297.22 L76.95,295.84 L77.10,294.32 L77.26,292.70 L77.42,290.97 L77.58,289.14 L77.74,286.61 L78.88,273.38 L80.02,261.42 L81.16,251.09 L82.30,241.67 L83.44,232.68 L84.58,224.08 L85.72,215.94 L86.86,208.20 L88.00,200.79 L89.14,193.65 L90.28,186.79 L91.42,180.23 L92.56,173.97 L93.70,167.99 L94.84,162.26 L95.98,156.79 L97.12,151.60 L98.26,146.46 L99.40,141.21 L100.54,135.96 L101.68,130.75 L102.82,125.64 L103.96,120.69 L105.10,115.96 L106.24,111.44 L107.38,107.07 L108.52,102.83 L109.66,98.71 L110.80,94.67 L111.94,90.73 L113.08,86.90 L114.22,83.20 L115.36,79.66 L116.50,76.30 L117.64,73.12 L118.78,70.05 L119.92,67.09 L121.06,64.25 L122.20,61.52 L123.34,58.91 L124.48,56.42 L125.62,54.08 L126.76,51.92 L127.90,49.92 L129.04,48.05 L130.18,46.32 L131.32,44.69 L132.46,43.15 L133.60,41.68 L134.74,40.30 L135.88,39.04 L137.02,37.89 L138.16,36.84 L139.30,35.86 L140.44,34.94 L141.58,34.07 L142.72,33.23 L143.86,32.41 L145.00,31.65 L146.14,30.98 L147.28,30.46 L148.42,30.08 L149.56,29.81 L150.70,29.64 L151.84,29.56 L152.98,29.57 L154.12,29.65 L155.26,29.81 L156.40,30.07 L157.54,30.41 L158.68,30.85 L159.82,31.37 L160.96,31.97 L162.10,32.65 L163.24,33.41 L164.38,34.25 L165.52,35.16 L166.66,36.14 L167.80,37.20 L168.94,38.32 L170.08,39.51 L171.22,40.76 L172.36,42.06 L173.50,43.43 L174.64,44.86 L175.78,46.36 L176.92,47.92 L178.06,49.58 L179.20,51.34 L180.34,53.16 L181.48,55.03 L182.62,56.90 L183.76,58.78 L184.90,60.70 L186.04,62.66 L187.18,64.67 L188.32,66.73 L189.46,68.84 L190.60,70.99 L191.74,73.17 L192.88,75.38 L194.02,77.60 L195.16,79.83 L196.30,82.06 L197.44,84.29 L198.58,86.54 L199.72,88.81 L200.86,91.12 L202.00,93.47 L203.14,95.88 L204.28,98.32 L205.42,100.79 L206.56,103.27 L207.70,105.77 L208.84,108.27 L209.98,110.79 L211.12,113.32 L212.26,115.86 L213.40,118.42 L214.54,120.99 L215.68,123.58 L216.82,126.18 L217.96,128.81 L219.10,131.44 L220.24,134.10 L221.38,136.76 L222.52,139.42 L223.66,142.10 L224.80,144.78 L225.94,147.45 L227.08,150.13 L228.22,152.80 L229.36,155.47 L230.50,158.12 L231.64,160.77 L232.78,163.40 L233.92,166.03 L235.06,168.65 L236.20,171.27 L237.34,173.88 L238.48,176.49 L239.62,179.09 L240.76,181.68 L241.90,184.27 L243.04,186.85 L244.18,189.42 L245.32,191.99 L246.46,194.54 L247.60,197.09 L248.74,199.62 L249.88,202.14 L251.02,204.66 L252.16,207.16 L253.30,209.65 L254.44,212.13 L255.58,214.59 L256.72,217.05 L257.86,219.48 L259.00,221.91 L260.14,224.32 L261.28,226.71 L262.42,229.08 L263.56,231.44 L264.70,233.78 L265.84,236.10 L266.98,238.40 L268.12,240.68 L269.26,242.94 L270.40,245.18 L271.54,247.40 L272.68,249.59 L273.82,251.77 L274.96,253.91 L276.10,256.04 L277.24,258.14 L278.38,260.21 L279.52,262.26 L280.66,264.28 L281.80,266.28 L282.94,268.26 L284.08,270.22 L285.22,272.15 L286.36,274.06 L287.50,275.96 L288.64,277.83 L289.78,279.68 L290.92,281.52 L292.06,283.34 L293.20,285.14 L294.34,286.92 L295.48,288.69 L296.62,290.44 L297.76,292.18 L298.90,293.90 L300.04,295.61 L301.18,297.31 L302.32,298.99 L303.46,300.65 L304.60,302.31 L305.74,303.95 L306.88,305.58 L308.02,307.20 L309.16,308.81 L310.30,310.41 L311.44,312.00 L312.58,313.57 L313.72,315.14 L314.86,316.69 L316.00,318.23 L317.14,319.76 L318.28,321.28 L319.42,322.78 L320.56,324.28 L321.70,325.76 L322.84,327.23 L323.98,328.68 L325.12,330.13 L326.26,331.56 L327.40,332.97 L328.54,334.38 L329.68,335.77 L330.82,337.15 L331.96,338.51 L333.10,339.87 L334.24,341.20 L335.38,342.53 L336.52,343.84 L337.66,345.14 L338.80,346.42 L339.94,347.69 L341.08,348.95 L342.22,350.19 L343.36,351.42 L344.50,352.63 L345.64,353.83 L346.78,355.01 L347.92,356.18 L349.06,357.34 L350.20,358.48 L351.34,359.61 L352.48,360.72 L353.62,361.81 L354.76,362.90 L355.90,363.96 L357.04,365.01 L358.18,366.05 L359.32,367.08 L360.46,368.09 L361.60,369.08 L362.74,370.07 L363.88,371.04 L365.02,372.00 L366.16,372.94 L367.30,373.87 L368.44,374.80 L369.58,375.71 L370.72,376.60 L371.86,377.49 L373.00,378.37 L374.14,379.23 L375.28,380.09 L376.42,380.93 L377.56,381.77 L378.70,382.59 L379.84,383.41 L380.98,384.22 L382.12,385.01 L383.26,385.80 L384.40,386.58 L385.54,387.35 L386.68,388.11 L387.82,388.87 L388.96,389.62 L390.10,390.35 L391.24,391.09 L392.38,391.81 L393.52,392.53 L394.66,393.24 L395.80,393.94 L396.94,394.64 L398.08,395.33 L399.22,396.01 L400.36,396.69 L401.50,397.36 L402.64,398.03 L403.78,398.69 L404.92,399.35 L406.06,400.00 L407.20,400.65 L408.34,401.29 L409.48,401.93 L410.62,402.56 L411.76,403.19 L412.90,403.82 L414.04,404.44 L415.18,405.06 L416.32,405.68 L417.46,406.29 L418.60,406.90 L419.74,407.50 L420.88,408.10 L422.02,408.69 L423.16,409.28 L424.30,409.87 L425.44,410.45 L426.58,411.03 L427.72,411.61 L428.86,412.18 L430.00,412.74 L431.14,413.31 L432.28,413.86 L433.42,414.42 L434.56,414.97 L435.70,415.51 L436.84,416.05 L437.98,416.58 L439.12,417.11 L440.26,417.64 L441.40,418.16 L442.54,418.68 L443.68,419.19 L444.82,419.69 L445.96,420.19 L447.10,420.69 L448.24,421.18 L449.38,421.66 L450.52,422.14 L451.66,422.62 L452.80,423.09 L453.94,423.55 L455.08,424.01 L456.22,424.46 L457.36,424.90 L458.50,425.34 L459.64,425.78 L460.78,426.21 L461.92,426.63 L463.06,427.05 L464.20,427.46 L465.34,427.86 L466.48,428.26 L467.62,428.65 L468.76,429.04 L469.90,429.42 L471.04,429.80 L472.18,430.17 L473.32,430.53 L474.46,430.89 L475.60,431.25 L476.74,431.60 L477.88,431.95 L479.02,432.29 L480.16,432.63 L481.30,432.96 L482.44,433.29 L483.58,433.62 L484.72,433.95 L485.86,434.26 L487.00,434.58 L488.14,434.89 L489.28,435.20 L490.42,435.51 L491.56,435.82 L492.70,436.12 L493.84,436.42 L494.98,436.71 L496.12,437.01 L497.26,437.30 L498.40,437.59 L499.54,437.88 L500.68,438.17 L501.82,438.45 L502.96,438.74 L504.10,439.02 L505.24,439.30 L506.38,439.58 L507.52,439.86 L508.66,440.14 L509.80,440.42 L510.94,440.69 L512.08,440.97 L513.22,441.25 L514.36,441.52 L515.50,441.80 L516.64,442.07 L517.78,442.34 L518.92,442.62 L520.06,442.89 L521.20,443.16 L522.34,443.43 L523.48,443.69 L524.62,443.96 L525.76,444.23 L526.90,444.49 L528.04,444.76 L529.18,445.02 L530.32,445.28 L531.46,445.54 L532.60,445.80 L533.74,446.06 L534.88,446.31 L536.02,446.57 L537.16,446.82 L538.30,447.07 L539.44,447.32 L540.58,447.57 L541.72,447.82 L542.86,448.06 L544.00,448.31 L545.14,448.55 L546.28,448.79 L547.42,449.03 L548.56,449.26 L549.70,449.50 L550.84,449.73 L551.98,449.96 L553.12,450.19 L554.26,450.41 L555.40,450.64 L556.54,450.86 L557.68,451.08 L558.82,451.29 L559.96,451.51 L561.10,451.72 L562.24,451.93 L563.38,452.14 L564.52,452.35 L565.66,452.55 L566.80,452.75 L567.94,452.95 L569.08,453.14 L570.22,453.34 L571.36,453.53 L572.50,453.72 L573.64,453.91 L574.78,454.09 L575.92,454.28 L577.06,454.46 L578.20,454.64 L579.34,454.81 L580.48,454.99 L581.62,455.16 L582.76,455.33 L583.90,455.50 L585.04,455.67 L586.18,455.83 L587.32,456.00 L588.46,456.16 L589.60,456.32 L590.74,456.48 L591.88,456.63 L593.02,456.79 L594.16,456.94 L595.30,457.09 L596.44,457.24 L597.58,457.39 L598.72,457.53 L599.86,457.67 L601.00,457.82 L602.14,457.96 L603.28,458.10 L604.42,458.23 L605.56,458.37 L606.70,458.50 L607.84,458.64 L608.98,458.77 L610.12,458.90 L611.26,459.03 L612.40,459.15 L613.54,459.28 L614.68,459.40 L615.82,459.53 L616.96,459.65 L618.10,459.77 L619.24,459.89 L620.38,460.00 L621.52,460.12 L622.66,460.23 L623.80,460.35 L624.94,460.46 L626.08,460.57 L627.22,460.68 L628.36,460.79 L629.50,460.90 L630.64,461.00 L631.78,461.11 L632.92,461.21 L634.06,461.31 L635.20,461.42 L636.34,461.52 L637.48,461.62 L638.62,461.71 L639.76,461.81 L640.90,461.91 L642.04,462.00 L643.18,462.10 L644.32,462.19 L645.46,462.28 L646.60,462.38 L647.74,462.47 L648.88,462.56 L650.02,462.65 L651.16,462.73 L652.30,462.82 L653.44,462.91 L654.58,462.99 L655.72,463.08 L656.86,463.16 L658.00,463.24 L659.14,463.33 L660.28,463.41 L661.42,463.49 L662.56,463.57 L663.70,463.65 L664.84,463.73 L665.98,463.81 L667.12,463.88 L668.26,463.96 L669.40,464.04 L670.54,464.11 L671.68,464.19 L672.82,464.26 L673.96,464.34 L675.10,464.41 L676.24,464.48 L677.38,464.55 L678.52,464.63 L679.66,464.70 L680.80,464.77 L681.94,464.84 L683.08,464.91 L684.22,464.98 L685.36,465.05 L686.50,465.12 L687.64,465.18 L688.78,465.25 L689.92,465.32 L691.06,465.39 L692.20,465.45 L693.34,465.52 L694.48,465.58 L695.62,465.65 L696.76,465.71 L697.90,465.78 L699.04,465.84 L700.18,465.91 L701.32,465.97 L702.46,466.04 L703.60,466.10 L704.74,466.16 L705.88,466.23 L707.02,466.29 L708.16,466.35 L709.30,466.42 L710.44,466.48 L711.58,466.54 L712.72,466.60 L713.86,466.67 L715.00,466.73 L716.14,466.79 L717.28,466.85 L718.42,466.91 L719.56,466.98 L720.70,467.04 L721.84,467.10 L722.98,467.16 L724.12,467.22 L725.26,467.29 L726.40,467.35 L727.54,467.41 L728.68,467.47 L729.82,467.53 L730.96,467.60 L732.10,467.66 L733.24,467.72 L734.38,467.78 L735.52,467.84 L736.66,467.91 L737.80,467.97 L738.94,468.03 L740.08,468.10 L741.22,468.16 L742.36,468.22 L743.50,468.29 L744.64,468.35 L745.78,468.41 L746.92,468.48 L748.06,468.54 L749.20,468.61 L750.34,468.67 L751.48,468.74 L752.62,468.80 L753.76,468.87 L754.90,468.93 L756.04,469.00 L757.18,469.07 L758.32,469.13 L759.46,469.20 L760.60,469.27" fill="none" stroke="#000" stroke-width="1.1" stroke-dasharray="1.4 2.7"/>
</g>
<rect x="381.90" y="15.70" width="358.40" height="282.30" fill="#fff"/>
<g clip-path="url(#ci)">
<path d="M381.90,445.86 L383.10,441.25 L384.30,436.70 L385.50,432.23 L386.69,427.82 L387.89,423.49 L389.09,419.23 L390.29,415.03 L391.49,410.91 L392.69,406.86 L393.89,402.87 L395.09,398.96 L396.28,395.11 L397.48,391.34 L398.68,387.63 L399.88,383.98 L401.08,380.39 L402.28,376.87 L403.48,373.40 L404.67,369.98 L405.87,366.62 L407.07,363.31 L408.27,360.05 L409.47,356.84 L410.67,353.67 L411.87,350.55 L413.07,347.48 L414.26,344.45 L415.46,341.46 L416.66,338.51 L417.86,335.60 L419.06,332.73 L420.26,329.89 L421.46,327.10 L422.65,324.33 L423.85,321.61 L425.05,318.92 L426.25,316.26 L427.45,313.63 L428.65,311.04 L429.85,308.48 L431.05,305.95 L432.24,303.45 L433.44,300.98 L434.64,298.53 L435.84,296.12 L437.04,293.73 L438.24,291.37 L439.44,289.04 L440.63,286.74 L441.83,284.46 L443.03,282.21 L444.23,279.98 L445.43,277.77 L446.63,275.60 L447.83,273.44 L449.03,271.31 L450.22,269.20 L451.42,267.12 L452.62,265.06 L453.82,263.02 L455.02,261.00 L456.22,259.01 L457.42,257.04 L458.61,255.08 L459.81,253.15 L461.01,251.25 L462.21,249.36 L463.41,247.49 L464.61,245.65 L465.81,243.83 L467.01,242.02 L468.20,240.24 L469.40,238.49 L470.60,236.75 L471.80,235.03 L473.00,233.34 L474.20,231.67 L475.40,230.01 L476.59,228.39 L477.79,226.78 L478.99,225.19 L480.19,223.63 L481.39,222.09 L482.59,220.57 L483.79,219.07 L484.98,217.59 L486.18,216.14 L487.38,214.71 L488.58,213.30 L489.78,211.91 L490.98,210.54 L492.18,209.20 L493.38,207.88 L494.57,206.58 L495.77,205.30 L496.97,204.05 L498.17,202.81 L499.37,201.60 L500.57,200.42 L501.77,199.25 L502.96,198.11 L504.16,196.99 L505.36,195.89 L506.56,194.82 L507.76,193.76 L508.96,192.73 L510.16,191.73 L511.36,190.74 L512.55,189.78 L513.75,188.84 L514.95,187.92 L516.15,187.03 L517.35,186.16 L518.55,185.31 L519.75,184.48 L520.94,183.68 L522.14,182.90 L523.34,182.14 L524.54,181.41 L525.74,180.70 L526.94,180.01 L528.14,179.34 L529.34,178.70 L530.53,178.08 L531.73,177.48 L532.93,176.90 L534.13,176.35 L535.33,175.82 L536.53,175.32 L537.73,174.83 L538.92,174.37 L540.12,173.93 L541.32,173.52 L542.52,173.12 L543.72,172.75 L544.92,172.41 L546.12,172.08 L547.32,171.78 L548.51,171.50 L549.71,171.24 L550.91,171.01 L552.11,170.79 L553.31,170.61 L554.51,170.44 L555.71,170.29 L556.90,170.17 L558.10,170.07 L559.30,169.98 L560.50,169.92 L561.70,169.89 L562.90,169.87 L564.10,169.87 L565.30,169.90 L566.49,169.94 L567.69,170.01 L568.89,170.09 L570.09,170.20 L571.29,170.32 L572.49,170.46 L573.69,170.63 L574.88,170.81 L576.08,171.01 L577.28,171.24 L578.48,171.48 L579.68,171.73 L580.88,172.01 L582.08,172.31 L583.28,172.62 L584.47,172.95 L585.67,173.30 L586.87,173.67 L588.07,174.06 L589.27,174.46 L590.47,174.88 L591.67,175.32 L592.86,175.77 L594.06,176.24 L595.26,176.73 L596.46,177.23 L597.66,177.75 L598.86,178.29 L600.06,178.84 L601.26,179.41 L602.45,179.99 L603.65,180.58 L604.85,181.17 L606.05,181.78 L607.25,182.39 L608.45,183.02 L609.65,183.65 L610.84,184.29 L612.04,184.95 L613.24,185.61 L614.44,186.28 L615.64,186.96 L616.84,187.65 L618.04,188.35 L619.24,189.06 L620.43,189.79 L621.63,190.52 L622.83,191.26 L624.03,192.01 L625.23,192.77 L626.43,193.54 L627.63,194.33 L628.82,195.12 L630.02,195.92 L631.22,196.74 L632.42,197.56 L633.62,198.40 L634.82,199.24 L636.02,200.10 L637.22,200.97 L638.41,201.85 L639.61,202.74 L640.81,203.64 L642.01,204.55 L643.21,205.48 L644.41,206.41 L645.61,207.36 L646.80,208.32 L648.00,209.29 L649.20,210.27 L650.40,211.27 L651.60,212.27 L652.80,213.29 L654.00,214.32 L655.19,215.37 L656.39,216.42 L657.59,217.49 L658.79,218.58 L659.99,219.67 L661.19,220.78 L662.39,221.90 L663.59,223.04 L664.78,224.19 L665.98,225.35 L667.18,226.53 L668.38,227.72 L669.58,228.93 L670.78,230.14 L671.98,231.36 L673.17,232.59 L674.37,233.82 L675.57,235.06 L676.77,236.31 L677.97,237.56 L679.17,238.82 L680.37,240.09 L681.57,241.37 L682.76,242.65 L683.96,243.94 L685.16,245.23 L686.36,246.53 L687.56,247.83 L688.76,249.15 L689.96,250.46 L691.15,251.79 L692.35,253.12 L693.55,254.45 L694.75,255.79 L695.95,257.14 L697.15,258.49 L698.35,259.84 L699.55,261.20 L700.74,262.57 L701.94,263.94 L703.14,265.32 L704.34,266.70 L705.54,268.08 L706.74,269.47 L707.94,270.86 L709.13,272.26 L710.33,273.66 L711.53,275.07 L712.73,276.48 L713.93,277.89 L715.13,279.31 L716.33,280.73 L717.53,282.15 L718.72,283.58 L719.92,285.01 L721.12,286.45 L722.32,287.89 L723.52,289.33 L724.72,290.77 L725.92,292.22 L727.11,293.67 L728.31,295.12 L729.51,296.58 L730.71,298.03 L731.91,299.49 L733.11,300.96 L734.31,302.42 L735.51,303.89 L736.70,305.36 L737.90,306.83 L739.10,308.30 L740.30,309.78" fill="none" stroke="#000" stroke-width="2.7" stroke-linejoin="round"/>
<path d="M562.37,67.87 L653.62,177.28 L723.64,273.37 L782.67,352.91" fill="none" stroke="#0000ff" stroke-width="1.4"/>
<g fill="#0000ff"><circle cx="562.37" cy="67.87" r="2.8"/><circle cx="653.62" cy="177.28" r="2.8"/><circle cx="723.64" cy="273.37" r="2.8"/><circle cx="782.67" cy="352.91" r="2.8"/></g>
<path d="M536.49,71.62 L617.02,145.19 L678.81,218.00 L730.90,285.19 L776.80,346.66" fill="none" stroke="#00ff00" stroke-width="1.4"/>
<g fill="#00ff00"><circle cx="536.49" cy="71.62" r="2.8"/><circle cx="617.02" cy="145.19" r="2.8"/><circle cx="678.81" cy="218.00" r="2.8"/><circle cx="730.90" cy="285.19" r="2.8"/><circle cx="776.80" cy="346.66" r="2.8"/></g>
<path d="M487.99,110.84 L548.42,125.30 L594.80,148.57 L633.90,177.09 L668.34,213.69 L699.48,250.47 L728.12,286.69 L754.77,320.97 L779.80,354.07" fill="none" stroke="#ff0000" stroke-width="1.4"/>
<g fill="#ff0000"><circle cx="487.99" cy="110.84" r="2.8"/><circle cx="548.42" cy="125.30" r="2.8"/><circle cx="594.80" cy="148.57" r="2.8"/><circle cx="633.90" cy="177.09" r="2.8"/><circle cx="668.34" cy="213.69" r="2.8"/><circle cx="699.48" cy="250.47" r="2.8"/><circle cx="728.12" cy="286.69" r="2.8"/><circle cx="754.77" cy="320.97" r="2.8"/><circle cx="779.80" cy="354.07" r="2.8"/></g>
<path d="M466.72,144.44 L518.35,139.56 L557.97,142.94 L591.36,152.32 L620.79,172.96 L647.39,196.05 L671.85,220.97 L694.62,247.05 L716.01,272.93 L736.24,298.22 L755.47,322.87 L773.86,346.98" fill="none" stroke="#ffa500" stroke-width="1.4"/>
<g fill="#ffa500"><circle cx="466.72" cy="144.44" r="2.8"/><circle cx="518.35" cy="139.56" r="2.8"/><circle cx="557.97" cy="142.94" r="2.8"/><circle cx="591.36" cy="152.32" r="2.8"/><circle cx="620.79" cy="172.96" r="2.8"/><circle cx="647.39" cy="196.05" r="2.8"/><circle cx="671.85" cy="220.97" r="2.8"/><circle cx="694.62" cy="247.05" r="2.8"/><circle cx="716.01" cy="272.93" r="2.8"/><circle cx="736.24" cy="298.22" r="2.8"/><circle cx="755.47" cy="322.87" r="2.8"/><circle cx="773.86" cy="346.98" r="2.8"/></g>
<path d="M445.22,188.54 L487.94,169.96 L520.72,158.14 L548.36,151.38 L572.70,155.70 L594.72,164.14 L614.96,175.59 L633.80,189.10 L651.50,203.93 L668.23,220.17 L684.15,237.37 L699.36,254.73 L713.95,272.04 L727.99,289.18 L741.54,306.03 L754.64,322.69 L767.33,339.15 L779.66,355.26" fill="none" stroke="#9400d3" stroke-width="1.4"/>
<g fill="#9400d3"><circle cx="445.22" cy="188.54" r="2.8"/><circle cx="487.94" cy="169.96" r="2.8"/><circle cx="520.72" cy="158.14" r="2.8"/><circle cx="548.36" cy="151.38" r="2.8"/><circle cx="572.70" cy="155.70" r="2.8"/><circle cx="594.72" cy="164.14" r="2.8"/><circle cx="614.96" cy="175.59" r="2.8"/><circle cx="633.80" cy="189.10" r="2.8"/><circle cx="651.50" cy="203.93" r="2.8"/><circle cx="668.23" cy="220.17" r="2.8"/><circle cx="684.15" cy="237.37" r="2.8"/><circle cx="699.36" cy="254.73" r="2.8"/><circle cx="713.95" cy="272.04" r="2.8"/><circle cx="727.99" cy="289.18" r="2.8"/><circle cx="741.54" cy="306.03" r="2.8"/><circle cx="754.64" cy="322.69" r="2.8"/><circle cx="767.33" cy="339.15" r="2.8"/><circle cx="779.66" cy="355.26" r="2.8"/></g>
<path d="M434.39,215.19 L472.62,192.11 L501.96,174.28 L526.69,160.58 L548.48,158.32 L568.19,159.64 L586.30,164.52 L603.16,171.46 L619.00,179.91 L633.98,190.59 L648.23,202.10 L661.84,214.55 L674.90,227.94 L687.46,241.65 L699.58,255.45 L711.31,269.25 L722.67,282.96 L733.71,296.53 L744.44,309.91 L754.89,323.20 L765.09,336.37 L775.04,349.34 L784.77,362.06" fill="none" stroke="#00ffff" stroke-width="1.4"/>
<g fill="#00ffff"><circle cx="434.39" cy="215.19" r="2.8"/><circle cx="472.62" cy="192.11" r="2.8"/><circle cx="501.96" cy="174.28" r="2.8"/><circle cx="526.69" cy="160.58" r="2.8"/><circle cx="548.48" cy="158.32" r="2.8"/><circle cx="568.19" cy="159.64" r="2.8"/><circle cx="586.30" cy="164.52" r="2.8"/><circle cx="603.16" cy="171.46" r="2.8"/><circle cx="619.00" cy="179.91" r="2.8"/><circle cx="633.98" cy="190.59" r="2.8"/><circle cx="648.23" cy="202.10" r="2.8"/><circle cx="661.84" cy="214.55" r="2.8"/><circle cx="674.90" cy="227.94" r="2.8"/><circle cx="687.46" cy="241.65" r="2.8"/><circle cx="699.58" cy="255.45" r="2.8"/><circle cx="711.31" cy="269.25" r="2.8"/><circle cx="722.67" cy="282.96" r="2.8"/><circle cx="733.71" cy="296.53" r="2.8"/><circle cx="744.44" cy="309.91" r="2.8"/><circle cx="754.89" cy="323.20" r="2.8"/><circle cx="765.09" cy="336.37" r="2.8"/><circle cx="775.04" cy="349.34" r="2.8"/><circle cx="784.77" cy="362.06" r="2.8"/></g>
<path d="M415.19,270.93 L445.48,242.40 L468.71,218.00 L488.30,195.86 L505.56,184.22 L521.17,175.78 L535.52,169.96 L548.87,166.77 L561.42,165.27 L573.28,165.83 L584.57,168.27 L595.35,172.21 L605.69,176.72 L615.64,181.78 L625.25,187.79 L634.53,193.98 L643.53,200.93 L652.27,208.43 L660.77,215.56 L669.05,223.63 L677.13,232.45 L685.01,240.34 L692.72,249.16 L700.26,257.41 L707.65,266.23 L714.89,274.49 L721.99,283.31 L728.96,291.38 L735.81,299.74 L742.54,308.03 L749.16,316.31 L755.67,324.57 L762.08,332.79 L768.40,340.95 L774.62,349.03 L780.76,357.01 L786.81,364.89" fill="none" stroke="#000000" stroke-width="1.4"/>
<g fill="#000000"><circle cx="415.19" cy="270.93" r="2.8"/><circle cx="445.48" cy="242.40" r="2.8"/><circle cx="468.71" cy="218.00" r="2.8"/><circle cx="488.30" cy="195.86" r="2.8"/><circle cx="505.56" cy="184.22" r="2.8"/><circle cx="521.17" cy="175.78" r="2.8"/><circle cx="535.52" cy="169.96" r="2.8"/><circle cx="548.87" cy="166.77" r="2.8"/><circle cx="561.42" cy="165.27" r="2.8"/><circle cx="573.28" cy="165.83" r="2.8"/><circle cx="584.57" cy="168.27" r="2.8"/><circle cx="595.35" cy="172.21" r="2.8"/><circle cx="605.69" cy="176.72" r="2.8"/><circle cx="615.64" cy="181.78" r="2.8"/><circle cx="625.25" cy="187.79" r="2.8"/><circle cx="634.53" cy="193.98" r="2.8"/><circle cx="643.53" cy="200.93" r="2.8"/><circle cx="652.27" cy="208.43" r="2.8"/><circle cx="660.77" cy="215.56" r="2.8"/><circle cx="669.05" cy="223.63" r="2.8"/><circle cx="677.13" cy="232.45" r="2.8"/><circle cx="685.01" cy="240.34" r="2.8"/><circle cx="692.72" cy="249.16" r="2.8"/><circle cx="700.26" cy="257.41" r="2.8"/><circle cx="707.65" cy="266.23" r="2.8"/><circle cx="714.89" cy="274.49" r="2.8"/><circle cx="721.99" cy="283.31" r="2.8"/><circle cx="728.96" cy="291.38" r="2.8"/><circle cx="735.81" cy="299.74" r="2.8"/><circle cx="742.54" cy="308.03" r="2.8"/><circle cx="749.16" cy="316.31" r="2.8"/><circle cx="755.67" cy="324.57" r="2.8"/><circle cx="762.08" cy="332.79" r="2.8"/><circle cx="768.40" cy="340.95" r="2.8"/><circle cx="774.62" cy="349.03" r="2.8"/><circle cx="780.76" cy="357.01" r="2.8"/><circle cx="786.81" cy="364.89" r="2.8"/></g>
<path d="M381.90,383.96 L383.10,378.86 L384.30,373.86 L385.50,368.93 L386.69,364.07 L387.89,359.29 L389.09,354.56 L390.29,349.90 L391.49,345.31 L392.69,340.79 L393.89,336.35 L395.09,331.99 L396.28,327.71 L397.48,323.51 L398.68,319.37 L399.88,315.31 L401.08,311.32 L402.28,307.39 L403.48,303.53 L404.67,299.73 L405.87,296.00 L407.07,292.32 L408.27,288.71 L409.47,285.20 L410.67,281.75 L411.87,278.33 L413.07,274.92 L414.26,271.49 L415.46,268.03 L416.66,264.54 L417.86,261.05 L419.06,257.55 L420.26,254.05 L421.46,250.56 L422.65,247.08 L423.85,243.62 L425.05,240.19 L426.25,236.78 L427.45,233.40 L428.65,230.06 L429.85,226.77 L431.05,223.52 L432.24,220.34 L433.44,217.21 L434.64,214.14 L435.84,211.13 L437.04,208.15 L438.24,205.21 L439.44,202.31 L440.63,199.44 L441.83,196.60 L443.03,193.80 L444.23,191.02 L445.43,188.28 L446.63,185.55 L447.83,182.85 L449.03,180.17 L450.22,177.51 L451.42,174.87 L452.62,172.26 L453.82,169.68 L455.02,167.12 L456.22,164.60 L457.42,162.12 L458.61,159.67 L459.81,157.26 L461.01,154.88 L462.21,152.55 L463.41,150.27 L464.61,148.03 L465.81,145.84 L467.01,143.71 L468.20,141.60 L469.40,139.53 L470.60,137.48 L471.80,135.46 L473.00,133.46 L474.20,131.50 L475.40,129.56 L476.59,127.66 L477.79,125.78 L478.99,123.93 L480.19,122.11 L481.39,120.31 L482.59,118.55 L483.79,116.82 L484.98,115.12 L486.18,113.45 L487.38,111.80 L488.58,110.20 L489.78,108.63 L490.98,107.12 L492.18,105.64 L493.38,104.21 L494.57,102.83 L495.77,101.48 L496.97,100.17 L498.17,98.89 L499.37,97.65 L500.57,96.45 L501.77,95.27 L502.96,94.12 L504.16,93.01 L505.36,91.91 L506.56,90.85 L507.76,89.80 L508.96,88.78 L510.16,87.77 L511.36,86.78 L512.55,85.81 L513.75,84.86 L514.95,83.93 L516.15,83.04 L517.35,82.18 L518.55,81.34 L519.75,80.54 L520.94,79.76 L522.14,79.01 L523.34,78.28 L524.54,77.57 L525.74,76.89 L526.94,76.22 L528.14,75.57 L529.34,74.94 L530.53,74.33 L531.73,73.73 L532.93,73.14 L534.13,72.56 L535.33,71.99 L536.53,71.43 L537.73,70.87 L538.92,70.31 L540.12,69.76 L541.32,69.22 L542.52,68.69 L543.72,68.18 L544.92,67.70 L546.12,67.24 L547.32,66.80 L548.51,66.41 L549.71,66.05 L550.91,65.73 L552.11,65.45 L553.31,65.20 L554.51,64.98 L555.71,64.78 L556.90,64.61 L558.10,64.47 L559.30,64.35 L560.50,64.26 L561.70,64.18 L562.90,64.14 L564.10,64.11 L565.30,64.10 L566.49,64.12 L567.69,64.15 L568.89,64.21 L570.09,64.28 L571.29,64.37 L572.49,64.48 L573.69,64.62 L574.88,64.77 L576.08,64.96 L577.28,65.17 L578.48,65.40 L579.68,65.65 L580.88,65.92 L582.08,66.22 L583.28,66.54 L584.47,66.87 L585.67,67.23 L586.87,67.61 L588.07,68.01 L589.27,68.44 L590.47,68.88 L591.67,69.34 L592.86,69.82 L594.06,70.32 L595.26,70.84 L596.46,71.38 L597.66,71.94 L598.86,72.52 L600.06,73.12 L601.26,73.73 L602.45,74.37 L603.65,75.02 L604.85,75.69 L606.05,76.37 L607.25,77.08 L608.45,77.80 L609.65,78.54 L610.84,79.30 L612.04,80.07 L613.24,80.86 L614.44,81.67 L615.64,82.48 L616.84,83.32 L618.04,84.17 L619.24,85.03 L620.43,85.91 L621.63,86.81 L622.83,87.72 L624.03,88.64 L625.23,89.58 L626.43,90.54 L627.63,91.52 L628.82,92.51 L630.02,93.52 L631.22,94.54 L632.42,95.58 L633.62,96.64 L634.82,97.73 L636.02,98.84 L637.22,99.98 L638.41,101.15 L639.61,102.33 L640.81,103.54 L642.01,104.76 L643.21,105.99 L644.41,107.22 L645.61,108.47 L646.80,109.72 L648.00,110.96 L649.20,112.20 L650.40,113.45 L651.60,114.71 L652.80,115.97 L654.00,117.24 L655.19,118.53 L656.39,119.82 L657.59,121.12 L658.79,122.43 L659.99,123.76 L661.19,125.10 L662.39,126.45 L663.59,127.82 L664.78,129.20 L665.98,130.59 L667.18,132.00 L668.38,133.41 L669.58,134.84 L670.78,136.27 L671.98,137.71 L673.17,139.16 L674.37,140.62 L675.57,142.08 L676.77,143.55 L677.97,145.03 L679.17,146.50 L680.37,147.98 L681.57,149.47 L682.76,150.95 L683.96,152.44 L685.16,153.92 L686.36,155.41 L687.56,156.89 L688.76,158.38 L689.96,159.86 L691.15,161.35 L692.35,162.84 L693.55,164.34 L694.75,165.85 L695.95,167.36 L697.15,168.88 L698.35,170.41 L699.55,171.96 L700.74,173.51 L701.94,175.08 L703.14,176.66 L704.34,178.26 L705.54,179.86 L706.74,181.48 L707.94,183.10 L709.13,184.73 L710.33,186.36 L711.53,188.00 L712.73,189.65 L713.93,191.30 L715.13,192.95 L716.33,194.61 L717.53,196.27 L718.72,197.93 L719.92,199.60 L721.12,201.26 L722.32,202.93 L723.52,204.61 L724.72,206.28 L725.92,207.96 L727.11,209.65 L728.31,211.33 L729.51,213.03 L730.71,214.72 L731.91,216.42 L733.11,218.12 L734.31,219.82 L735.51,221.53 L736.70,223.24 L737.90,224.96 L739.10,226.68 L740.30,228.40" fill="none" stroke="#000" stroke-width="1.1" stroke-dasharray="1.4 2.7"/>
</g>
<path d="M72.00,483.70L72.00,470.10M72.00,2.00L72.00,15.60M100.69,483.70L100.69,476.70M100.69,2.00L100.69,9.00M129.38,483.70L129.38,476.70M129.38,2.00L129.38,9.00M158.08,483.70L158.08,476.70M158.08,2.00L158.08,9.00M186.77,483.70L186.77,470.10M186.77,2.00L186.77,15.60M215.46,483.70L215.46,476.70M215.46,2.00L215.46,9.00M244.15,483.70L244.15,476.70M244.15,2.00L244.15,9.00M272.84,483.70L272.84,476.70M272.84,2.00L272.84,9.00M301.53,483.70L301.53,470.10M301.53,2.00L301.53,15.60M330.23,483.70L330.23,476.70M330.23,2.00L330.23,9.00M358.92,483.70L358.92,476.70M358.92,2.00L358.92,9.00M387.61,483.70L387.61,476.70M387.61,2.00L387.61,9.00M416.30,483.70L416.30,470.10M416.30,2.00L416.30,15.60M444.99,483.70L444.99,476.70M444.99,2.00L444.99,9.00M473.68,483.70L473.68,476.70M473.68,2.00L473.68,9.00M502.38,483.70L502.38,476.70M502.38,2.00L502.38,9.00M531.07,483.70L531.07,470.10M531.07,2.00L531.07,15.60M559.76,483.70L559.76,476.70M559.76,2.00L559.76,9.00M588.45,483.70L588.45,476.70M588.45,2.00L588.45,9.00M617.14,483.70L617.14,476.70M617.14,2.00L617.14,9.00M645.83,483.70L645.83,470.10M645.83,2.00L645.83,15.60M674.53,483.70L674.53,476.70M674.53,2.00L674.53,9.00M703.22,483.70L703.22,476.70M703.22,2.00L703.22,9.00M731.91,483.70L731.91,476.70M731.91,2.00L731.91,9.00M760.60,483.70L760.60,470.10M760.60,2.00L760.60,15.60M72.00,473.39L79.00,473.39M760.60,473.39L753.60,473.39M72.00,462.67L79.00,462.67M760.60,462.67L753.60,462.67M72.00,451.96L79.00,451.96M760.60,451.96L753.60,451.96M72.00,441.25L79.00,441.25M760.60,441.25L753.60,441.25M72.00,430.53L79.00,430.53M760.60,430.53L753.60,430.53M72.00,419.82L79.00,419.82M760.60,419.82L753.60,419.82M72.00,409.11L79.00,409.11M760.60,409.11L753.60,409.11M72.00,398.39L79.00,398.39M760.60,398.39L753.60,398.39M72.00,387.68L79.00,387.68M760.60,387.68L753.60,387.68M72.00,376.97L85.60,376.97M760.60,376.97L747.00,376.97M72.00,366.25L79.00,366.25M760.60,366.25L753.60,366.25M72.00,355.54L79.00,355.54M760.60,355.54L753.60,355.54M72.00,344.83L79.00,344.83M760.60,344.83L753.60,344.83M72.00,334.11L79.00,334.11M760.60,334.11L753.60,334.11M72.00,323.40L79.00,323.40M760.60,323.40L753.60,323.40M72.00,312.69L79.00,312.69M760.60,312.69L753.60,312.69M72.00,301.97L79.00,301.97M760.60,301.97L753.60,301.97M72.00,291.26L79.00,291.26M760.60,291.26L753.60,291.26M72.00,280.55L79.00,280.55M760.60,280.55L753.60,280.55M72.00,269.83L85.60,269.83M760.60,269.83L747.00,269.83M72.00,259.12L79.00,259.12M760.60,259.12L753.60,259.12M72.00,248.41L79.00,248.41M760.60,248.41L753.60,248.41M72.00,237.69L79.00,237.69M760.60,237.69L753.60,237.69M72.00,226.98L79.00,226.98M760.60,226.98L753.60,226.98M72.00,216.27L79.00,216.27M760.60,216.27L753.60,216.27M72.00,205.55L79.00,205.55M760.60,205.55L753.60,205.55M72.00,194.84L79.00,194.84M760.60,194.84L753.60,194.84M72.00,184.13L79.00,184.13M760.60,184.13L753.60,184.13M72.00,173.41L79.00,173.41M760.60,173.41L753.60,173.41M72.00,162.70L85.60,162.70M760.60,162.70L747.00,162.70M72.00,151.99L79.00,151.99M760.60,151.99L753.60,151.99M72.00,141.27L79.00,141.27M760.60,141.27L753.60,141.27M72.00,130.56L79.00,130.56M760.60,130.56L753.60,130.56M72.00,119.85L79.00,119.85M760.60,119.85L753.60,119.85M72.00,109.13L79.00,109.13M760.60,109.13L753.60,109.13M72.00,98.42L79.00,98.42M760.60,98.42L753.60,98.42M72.00,87.71L79.00,87.71M760.60,87.71L753.60,87.71M72.00,76.99L79.00,76.99M760.60,76.99L753.60,76.99M72.00,66.28L79.00,66.28M760.60,66.28L753.60,66.28M72.00,55.57L85.60,55.57M760.60,55.57L747.00,55.57M72.00,44.85L79.00,44.85M760.60,44.85L753.60,44.85M72.00,34.14L79.00,34.14M760.60,34.14L753.60,34.14M72.00,23.43L79.00,23.43M760.60,23.43L753.60,23.43M72.00,12.71L79.00,12.71M760.60,12.71L753.60,12.71M389.86,298.00L389.86,291.20M389.86,15.70L389.86,22.50M405.79,298.00L405.79,291.20M405.79,15.70L405.79,22.50M421.72,298.00L421.72,291.20M421.72,15.70L421.72,22.50M437.65,298.00L437.65,291.20M437.65,15.70L437.65,22.50M453.58,298.00L453.58,291.20M453.58,15.70L453.58,22.50M469.51,298.00L469.51,291.20M469.51,15.70L469.51,22.50M485.44,298.00L485.44,291.20M485.44,15.70L485.44,22.50M501.37,298.00L501.37,284.40M501.37,15.70L501.37,29.30M517.30,298.00L517.30,291.20M517.30,15.70L517.30,22.50M533.22,298.00L533.22,291.20M533.22,15.70L533.22,22.50M549.15,298.00L549.15,291.20M549.15,15.70L549.15,22.50M565.08,298.00L565.08,291.20M565.08,15.70L565.08,22.50M581.01,298.00L581.01,291.20M581.01,15.70L581.01,22.50M596.94,298.00L596.94,291.20M596.94,15.70L596.94,22.50M612.87,298.00L612.87,291.20M612.87,15.70L612.87,22.50M628.80,298.00L628.80,291.20M628.80,15.70L628.80,22.50M644.73,298.00L644.73,291.20M644.73,15.70L644.73,22.50M660.66,298.00L660.66,284.40M660.66,15.70L660.66,29.30M676.58,298.00L676.58,291.20M676.58,15.70L676.58,22.50M692.51,298.00L692.51,291.20M692.51,15.70L692.51,22.50M708.44,298.00L708.44,291.20M708.44,15.70L708.44,22.50M724.37,298.00L724.37,291.20M724.37,15.70L724.37,22.50M740.30,298.00L740.30,291.20M740.30,15.70L740.30,22.50M381.90,298.00L395.50,298.00M381.90,279.18L388.70,279.18M381.90,260.36L388.70,260.36M381.90,241.54L388.70,241.54M381.90,222.72L388.70,222.72M381.90,203.90L388.70,203.90M381.90,185.08L388.70,185.08M381.90,166.26L388.70,166.26M381.90,147.44L388.70,147.44M381.90,128.62L388.70,128.62M381.90,109.80L395.50,109.80M381.90,90.98L388.70,90.98M381.90,72.16L388.70,72.16M381.90,53.34L388.70,53.34M381.90,34.52L388.70,34.52M381.90,15.70L388.70,15.70" stroke="#000" stroke-width="1.3" fill="none"/>
<rect x="72.00" y="2.00" width="688.60" height="481.70" fill="none" stroke="#000" stroke-width="1.4"/>
<rect x="381.90" y="15.70" width="358.40" height="282.30" fill="none" stroke="#000" stroke-width="1.4"/>
<g font-family="'Liberation Serif', serif" fill="#000" style="opacity:0.999">
<g font-size="32.3px" text-anchor="middle">
<text x="72.30" y="512.6">0.0</text>
<text x="187.07" y="512.6">0.4</text>
<text x="301.83" y="512.6">0.8</text>
<text x="416.60" y="512.6">1.2</text>
<text x="531.37" y="512.6">1.6</text>
<text x="646.13" y="512.6">2.0</text>
</g>
<text x="417.5" y="542.2" font-size="31.6px" text-anchor="middle">p [GeV]</text>
<g font-size="32.3px" text-anchor="end">
<text x="65.6" y="387.17">1</text>
<text x="65.6" y="280.03">2</text>
<text x="65.6" y="172.90">3</text>
<text x="65.6" y="65.77">4</text>
</g>
<g font-size="28.2px" text-anchor="middle">
<text x="501.37" y="323.3">0.2</text>
<text x="660.66" y="323.3">0.4</text>
</g>
<g font-size="28.2px" text-anchor="end">
<text x="375.3" y="307.20">3</text>
<text x="375.3" y="119.00">4</text>
</g>
<text transform="translate(37.2,339.6) rotate(-90)" font-size="32px">D(p<tspan dy="-20" font-size="22px">2</tspan><tspan dy="20">) [1/GeV</tspan><tspan dy="-20" font-size="22px">2</tspan><tspan dy="20">]</tspan></text>
<g font-size="24.3px">
<text x="143.2" y="293.7">Inf. volume</text>
<text x="143.2" y="317.2">L = 4.5 fm</text>
<text x="143.2" y="340.9">L = 5.1 fm</text>
<text x="143.2" y="364.4">L = 6.7 fm</text>
<text x="143.2" y="388.0">L = 7.9 fm</text>
<text x="143.2" y="411.7">L = 9.5 fm</text>
<text x="143.2" y="435.3">L = 10.7 fm</text>
<text x="143.2" y="458.9">L = 13.5 fm</text>
</g></g>
<path d="M100.6,285.8L130.2,285.8" stroke="#000" stroke-width="2.7"/>
<path d="M101.5,309.3L129.3,309.3" stroke="#0000ff" stroke-width="1.3"/><circle cx="101.5" cy="309.3" r="2.2" fill="#0000ff"/><circle cx="129.3" cy="309.3" r="2.2" fill="#0000ff"/>
<path d="M101.5,333L129.3,333" stroke="#00ff00" stroke-width="1.3"/><circle cx="101.5" cy="333" r="2.2" fill="#00ff00"/><circle cx="129.3" cy="333" r="2.2" fill="#00ff00"/>
<path d="M101.5,356.5L129.3,356.5" stroke="#ff0000" stroke-width="1.3"/><circle cx="101.5" cy="356.5" r="2.2" fill="#ff0000"/><circle cx="129.3" cy="356.5" r="2.2" fill="#ff0000"/>
<path d="M101.5,380.1L129.3,380.1" stroke="#ffa500" stroke-width="1.3"/><circle cx="101.5" cy="380.1" r="2.2" fill="#ffa500"/><circle cx="129.3" cy="380.1" r="2.2" fill="#ffa500"/>
<path d="M101.5,403.8L129.3,403.8" stroke="#9400d3" stroke-width="1.3"/><circle cx="101.5" cy="403.8" r="2.2" fill="#9400d3"/><circle cx="129.3" cy="403.8" r="2.2" fill="#9400d3"/>
<path d="M101.5,427.4L129.3,427.4" stroke="#00ffff" stroke-width="1.3"/><circle cx="101.5" cy="427.4" r="2.2" fill="#00ffff"/><circle cx="129.3" cy="427.4" r="2.2" fill="#00ffff"/>
<path d="M101.5,451L129.3,451" stroke="#000000" stroke-width="1.3"/><circle cx="101.5" cy="451" r="2.2" fill="#000000"/><circle cx="129.3" cy="451" r="2.2" fill="#000000"/>
</svg>
</body></html>
